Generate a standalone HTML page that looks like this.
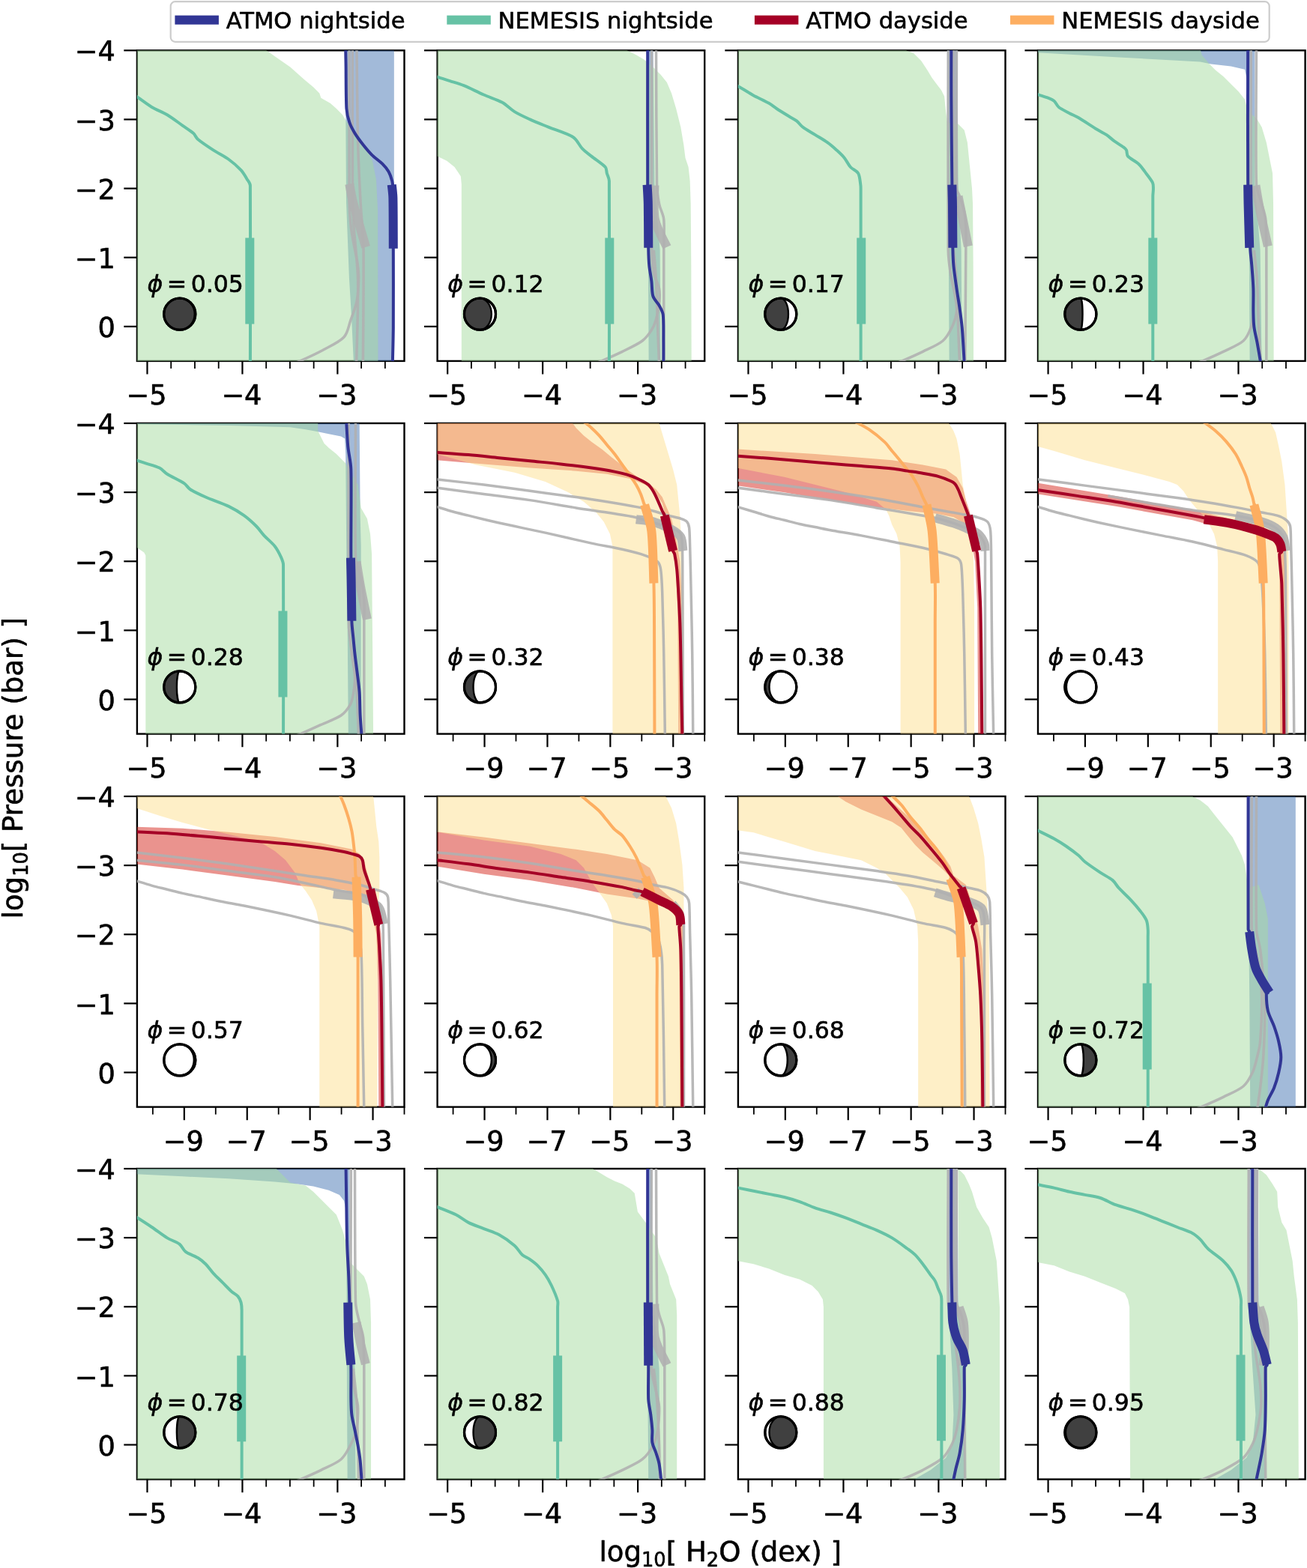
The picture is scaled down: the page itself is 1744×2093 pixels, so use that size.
<!DOCTYPE html><html><head><meta charset="utf-8"><style>html,body{margin:0;padding:0;background:#fff;}svg{display:block}text{font-family:"DejaVu Sans","Liberation Sans",sans-serif;}.b{stroke:#000;stroke-width:0.6px;stroke-linejoin:round}</style></head><body>
<svg xmlns="http://www.w3.org/2000/svg" width="1744" height="2093" viewBox="0 0 1744 2093">
<rect width="1744" height="2093" fill="#fff"/>
<defs>
<clipPath id="cp00"><rect x="182.9" y="67.3" width="356.6" height="414.6"/></clipPath>
<clipPath id="cp01"><rect x="583.6" y="67.3" width="356.6" height="414.6"/></clipPath>
<clipPath id="cp02"><rect x="984.9" y="67.3" width="356.6" height="414.6"/></clipPath>
<clipPath id="cp03"><rect x="1385" y="67.3" width="356.6" height="414.6"/></clipPath>
<clipPath id="cp10"><rect x="182.9" y="565" width="356.6" height="414.6"/></clipPath>
<clipPath id="cp11"><rect x="583.6" y="565" width="356.6" height="414.6"/></clipPath>
<clipPath id="cp12"><rect x="984.9" y="565" width="356.6" height="414.6"/></clipPath>
<clipPath id="cp13"><rect x="1385" y="565" width="356.6" height="414.6"/></clipPath>
<clipPath id="cp20"><rect x="182.9" y="1063" width="356.6" height="414.6"/></clipPath>
<clipPath id="cp21"><rect x="583.6" y="1063" width="356.6" height="414.6"/></clipPath>
<clipPath id="cp22"><rect x="984.9" y="1063" width="356.6" height="414.6"/></clipPath>
<clipPath id="cp23"><rect x="1385" y="1063" width="356.6" height="414.6"/></clipPath>
<clipPath id="cp30"><rect x="182.9" y="1560" width="356.6" height="414.6"/></clipPath>
<clipPath id="cp31"><rect x="583.6" y="1560" width="356.6" height="414.6"/></clipPath>
<clipPath id="cp32"><rect x="984.9" y="1560" width="356.6" height="414.6"/></clipPath>
<clipPath id="cp33"><rect x="1385" y="1560" width="356.6" height="414.6"/></clipPath>
</defs>
<rect x="182.9" y="67.3" width="356.6" height="414.6" fill="none" stroke="#000" stroke-width="2.4"/>
<g clip-path="url(#cp00)">
<polygon points="461.38,64.95 461.38,169.64 462,270.02 465.9,371.01 468.97,421.92 472.05,486.79 525.84,486.79 525.84,64.95" fill="#4575b4" fill-opacity="0.5"/>
<polygon points="179.95,64.95 352.38,64.95 366.75,75.21 387.28,89.58 405.75,106 418.07,116.27 426.28,124.48 428.33,130.64 440.65,137.82 448.86,145 457.07,153.22 461.38,160.61 474.72,179.9 489.91,200.02 497.1,215 502.02,240.05 504.08,280.08 504.49,486.79 179.95,486.79" fill="#a6dba0" fill-opacity="0.5"/>
<path d="M466.1,64.95 C466.1,99.13 465.79,230.91 466.1,270.02 C466.18,279.89 467.13,291.16 467.95,299.58 C468.63,306.6 469.81,313.57 471.03,320.51 C472.53,329.1 475.71,342.68 476.98,351.1 C477.97,357.69 478.73,364.35 478.62,371.01 C478.49,379.43 477.94,392.26 476.16,401.6 C474.49,410.36 470.82,418.98 467.95,427.05 C465.19,434.81 464.5,444 458.92,450.04 C452.69,456.78 440.33,462.2 430.59,467.49 C420.77,472.83 407.22,478.85 400,482.07 C395.87,483.91 389.4,486 387.28,486.79" fill="none" stroke="#b0b0b0" stroke-width="3.5" stroke-opacity="0.9" stroke-linejoin="round" stroke-linecap="butt"/>
<path d="M475.95,64.95 C476.23,85.82 476.74,155.99 477.6,190.17 C478.26,216.8 479.85,246.58 481.09,270.02 C482.15,290.28 484.68,310.49 484.99,330.78 C485.53,366.91 484.47,460.79 484.37,486.79" fill="none" stroke="#b0b0b0" stroke-width="3.5" stroke-opacity="0.9" stroke-linejoin="round" stroke-linecap="butt"/>
<path d="M470.41,64.95 C470.41,92.66 470.24,193.24 470.41,231.22 C470.5,251.75 470.41,272.3 471.44,292.8 C472.64,316.75 477.02,347.47 477.6,374.91 C478.28,407.24 475.89,468.14 475.54,486.79" fill="none" stroke="#b0b0b0" stroke-width="3.5" stroke-opacity="0.9" stroke-linejoin="round" stroke-linecap="butt"/>
<path d="M466.31,245.59 C467.09,249.66 468.95,261.99 471.03,270.02 C474.65,284.04 485.23,319.8 488.07,329.75" fill="none" stroke="#b0b0b0" stroke-width="12.0" stroke-opacity="0.9" stroke-linejoin="round" stroke-linecap="butt"/>
<path d="M179.95,127.56 C180.29,127.73 181.37,128.15 182,128.58 C185.76,131.15 195.69,138.85 202.53,142.95 C209.09,146.89 216.5,149.28 223.06,153.22 C229.9,157.32 237.77,163.48 243.58,167.58 C248.39,170.98 254.53,174.77 257.95,177.85 C260.49,180.14 261.5,183.85 264.11,186.06 C268.56,189.82 277.8,195.98 284.64,200.43 C291.33,204.78 299.01,208.3 305.17,212.75 C311.06,217 317.48,222.67 321.59,227.11 C324.93,230.74 327.75,236.01 329.8,239.43 C331.37,242.06 333.85,244.58 333.9,247.64 C334.59,288.87 333.9,446.93 333.9,486.79" fill="none" stroke="#66c2a5" stroke-width="4.0" stroke-opacity="1" stroke-linejoin="round" stroke-linecap="butt"/>
<polyline points="333.29,317.44 333.29,432.39" fill="none" stroke="#66c2a5" stroke-width="12.0" stroke-opacity="1" stroke-linejoin="round" stroke-linecap="butt"/>
<path d="M461.17,64.95 C461.24,68.71 461.47,80 461.58,87.53 C461.79,100.87 461.62,132.35 462.41,145 C462.8,151.29 464.46,158.01 466.31,163.48 C468.02,168.55 470.71,173.27 473.49,177.85 C476.4,182.64 480.12,187.59 483.75,192.22 C487.52,197.01 491.62,202.14 496.07,206.59 C500.52,211.03 506.68,215.14 510.44,218.9 C513.54,222 516.53,225.4 518.65,229.17 C520.77,232.93 522.21,237.72 523.17,241.48 C524.02,244.82 524.34,248.3 524.4,251.75 C524.67,267.14 524.75,306.49 524.81,333.86 C524.88,364.65 524.98,411.01 524.81,436.5 C524.7,453.26 523.95,478.41 523.78,486.79" fill="none" stroke="#313695" stroke-width="4.0" stroke-opacity="1" stroke-linejoin="round" stroke-linecap="butt"/>
<path d="M522.76,246.62 C523.03,249.52 524.26,258.22 524.4,264.06 C524.74,278.26 524.74,320.51 524.81,331.81" fill="none" stroke="#313695" stroke-width="12.0" stroke-opacity="1" stroke-linejoin="round" stroke-linecap="butt"/>
<text y="390.1" font-size="31.5" class="b"><tspan x="196.5" font-style="italic">ϕ</tspan><tspan x="222.8">=</tspan><tspan x="254.7">0.05</tspan></text>
<circle cx="239.8" cy="419.2" r="21" fill="#ffffff" stroke="#000" stroke-width="3.2"/>
<path d="M239.8,398.2 A21,21 0 0 0 239.8,440.2 A19.97,21 0 0 0 239.8,398.2 Z" fill="#404040" stroke="#000" stroke-width="2.4"/>
<circle cx="239.8" cy="419.2" r="21" fill="none" stroke="#000" stroke-width="3.2"/>
</g>
<line x1="165.3" y1="67.3" x2="182.9" y2="67.3" stroke="#000" stroke-width="2.2"/>
<text x="153.9" y="81.4" font-size="36.7" text-anchor="end" class="b">−4</text>
<line x1="165.3" y1="159.43" x2="182.9" y2="159.43" stroke="#000" stroke-width="2.2"/>
<text x="153.9" y="173.53" font-size="36.7" text-anchor="end" class="b">−3</text>
<line x1="165.3" y1="251.57" x2="182.9" y2="251.57" stroke="#000" stroke-width="2.2"/>
<text x="153.9" y="265.67" font-size="36.7" text-anchor="end" class="b">−2</text>
<line x1="165.3" y1="343.7" x2="182.9" y2="343.7" stroke="#000" stroke-width="2.2"/>
<text x="153.9" y="357.8" font-size="36.7" text-anchor="end" class="b">−1</text>
<line x1="165.3" y1="435.83" x2="182.9" y2="435.83" stroke="#000" stroke-width="2.2"/>
<text x="153.9" y="449.93" font-size="36.7" text-anchor="end" class="b">0</text>
<line x1="196.48" y1="481.9" x2="196.48" y2="499.5" stroke="#000" stroke-width="2.2"/>
<text x="195.48" y="540.2" font-size="36.7" text-anchor="middle" class="b">−5</text>
<line x1="323.43" y1="481.9" x2="323.43" y2="499.5" stroke="#000" stroke-width="2.2"/>
<text x="322.43" y="540.2" font-size="36.7" text-anchor="middle" class="b">−4</text>
<line x1="450.38" y1="481.9" x2="450.38" y2="499.5" stroke="#000" stroke-width="2.2"/>
<text x="449.38" y="540.2" font-size="36.7" text-anchor="middle" class="b">−3</text>
<line x1="228.22" y1="481.9" x2="228.22" y2="491.9" stroke="#000" stroke-width="1.8"/>
<line x1="259.96" y1="481.9" x2="259.96" y2="491.9" stroke="#000" stroke-width="1.8"/>
<line x1="291.7" y1="481.9" x2="291.7" y2="491.9" stroke="#000" stroke-width="1.8"/>
<line x1="355.17" y1="481.9" x2="355.17" y2="491.9" stroke="#000" stroke-width="1.8"/>
<line x1="386.91" y1="481.9" x2="386.91" y2="491.9" stroke="#000" stroke-width="1.8"/>
<line x1="418.65" y1="481.9" x2="418.65" y2="491.9" stroke="#000" stroke-width="1.8"/>
<line x1="482.12" y1="481.9" x2="482.12" y2="491.9" stroke="#000" stroke-width="1.8"/>
<line x1="513.86" y1="481.9" x2="513.86" y2="491.9" stroke="#000" stroke-width="1.8"/>
<rect x="583.6" y="67.3" width="356.6" height="414.6" fill="none" stroke="#000" stroke-width="2.4"/>
<g clip-path="url(#cp01)">
<polygon points="863.58,64.95 871.39,64.95 873.44,245.59 880.62,333.86 881.65,486.79 865.64,486.79 864.82,333.86 863.58,245.59" fill="#4575b4" fill-opacity="0.5"/>
<polygon points="581.95,64.95 836.49,64.95 836.49,67 848.81,73.16 859.07,79.32 871.39,89.58 881.65,99.84 889.86,110.11 896.02,124.48 902.18,145 908.33,169.64 912.44,194.27 914.49,210.69 918.6,223.01 920.65,241.48 921.68,272.28 922.29,354.39 922.7,486.79 615.82,486.79 615.82,245.59 614.79,235.33 606.58,223.01 596.32,214.8 584,208.64 581.95,208.64" fill="#a6dba0" fill-opacity="0.5"/>
<path d="M869.74,64.95 C869.74,109.77 869.3,283.91 869.74,333.86 C869.83,344.16 870.77,356.1 872.41,364.65 C873.78,371.77 878.4,378.33 879.6,385.18 C880.78,391.92 880.28,398.9 879.6,405.7 C878.91,412.55 877.2,420.42 875.49,426.23 C874.02,431.23 872.15,436.22 869.33,440.6 C866.25,445.39 862.09,451.23 857.02,454.97 C850.52,459.76 839.39,464.88 830.33,469.34 C821.16,473.86 808.84,479.16 802,482.07 C797.84,483.84 791.4,486 789.28,486.79" fill="none" stroke="#b0b0b0" stroke-width="3.5" stroke-opacity="0.9" stroke-linejoin="round" stroke-linecap="butt"/>
<path d="M875.49,64.95 C875.66,95.05 875.83,211.03 876.52,245.59 C876.69,254.54 878.06,264.41 879.6,272.28 C880.97,279.29 885.04,285.69 885.75,292.8 C886.78,303.07 885.75,320.17 885.75,333.86 C885.75,366.19 885.75,461.3 885.75,486.79" fill="none" stroke="#b0b0b0" stroke-width="3.5" stroke-opacity="0.9" stroke-linejoin="round" stroke-linecap="butt"/>
<path d="M872.41,333.86 C872.92,340.7 874.81,361.21 875.49,374.91 C876.35,392.02 876.86,417.85 877.54,436.5 C878.16,453.26 879.25,478.41 879.6,486.79" fill="none" stroke="#b0b0b0" stroke-width="3.5" stroke-opacity="0.9" stroke-linejoin="round" stroke-linecap="butt"/>
<path d="M873.44,247.64 C873.51,255.17 871.11,279.12 873.85,292.8 C876.48,305.97 887.19,323.59 889.86,329.75" fill="none" stroke="#b0b0b0" stroke-width="12.0" stroke-opacity="0.9" stroke-linejoin="round" stroke-linecap="butt"/>
<path d="M581.95,102.31 C582.29,102.41 583.32,102.71 584,102.92 C587.08,103.88 594.97,106.29 600.42,108.06 C606.24,109.94 612.89,111.76 618.9,114.21 C626.42,117.29 637.03,122.77 645.58,126.53 C653.72,130.11 663.37,133.03 670.22,136.79 C676.21,140.09 680.8,145.54 686.64,149.11 C692.8,152.87 700.2,156.21 707.17,159.37 C714.69,162.8 723.57,166.26 731.8,169.64 C741.38,173.57 757.12,178.19 764.64,182.98 C770.19,186.51 772.85,194.1 776.96,198.38 C780.66,202.23 785.1,205.3 789.28,208.64 C794.41,212.75 804.33,219.25 807.75,223.01 C809.65,225.1 809.05,228.5 809.8,231.22 C810.66,234.3 812.84,237.91 812.88,241.48 C813.4,284.08 812.88,445.9 812.88,486.79" fill="none" stroke="#66c2a5" stroke-width="4.0" stroke-opacity="1" stroke-linejoin="round" stroke-linecap="butt"/>
<polyline points="813.29,317.44 813.29,432.39" fill="none" stroke="#66c2a5" stroke-width="12.0" stroke-opacity="1" stroke-linejoin="round" stroke-linecap="butt"/>
<path d="M864.2,64.95 C864.2,95.05 864.03,201.11 864.2,245.59 C864.31,274.33 864.88,313.67 865.23,331.81 C865.37,339.34 865.57,347.2 866.25,354.39 C866.91,361.27 868.48,368.07 869.33,374.91 C870.19,381.74 869.67,389.97 871.39,395.44 C872.86,400.15 877.37,403.65 879.6,407.76 C881.71,411.67 884.21,415.66 884.73,420.07 C885.69,428.28 885.24,445.9 885.34,457.02 C885.44,466.94 885.34,481.83 885.34,486.79" fill="none" stroke="#313695" stroke-width="4.0" stroke-opacity="1" stroke-linejoin="round" stroke-linecap="butt"/>
<path d="M863.58,246.62 C863.79,250.89 864.65,263.71 864.82,272.28 C865.09,286.3 865.16,321.03 865.23,330.78" fill="none" stroke="#313695" stroke-width="12.0" stroke-opacity="1" stroke-linejoin="round" stroke-linecap="butt"/>
<text y="390.1" font-size="31.5" class="b"><tspan x="597.2" font-style="italic">ϕ</tspan><tspan x="623.5">=</tspan><tspan x="655.4">0.12</tspan></text>
<circle cx="640.5" cy="419.2" r="21" fill="#ffffff" stroke="#000" stroke-width="3.2"/>
<path d="M640.5,398.2 A21,21 0 0 0 640.5,440.2 A15.31,21 0 0 0 640.5,398.2 Z" fill="#404040" stroke="#000" stroke-width="2.4"/>
<circle cx="640.5" cy="419.2" r="21" fill="none" stroke="#000" stroke-width="3.2"/>
</g>
<line x1="566" y1="67.3" x2="583.6" y2="67.3" stroke="#000" stroke-width="2.2"/>
<line x1="566" y1="159.43" x2="583.6" y2="159.43" stroke="#000" stroke-width="2.2"/>
<line x1="566" y1="251.57" x2="583.6" y2="251.57" stroke="#000" stroke-width="2.2"/>
<line x1="566" y1="343.7" x2="583.6" y2="343.7" stroke="#000" stroke-width="2.2"/>
<line x1="566" y1="435.83" x2="583.6" y2="435.83" stroke="#000" stroke-width="2.2"/>
<line x1="597.18" y1="481.9" x2="597.18" y2="499.5" stroke="#000" stroke-width="2.2"/>
<text x="596.18" y="540.2" font-size="36.7" text-anchor="middle" class="b">−5</text>
<line x1="724.13" y1="481.9" x2="724.13" y2="499.5" stroke="#000" stroke-width="2.2"/>
<text x="723.13" y="540.2" font-size="36.7" text-anchor="middle" class="b">−4</text>
<line x1="851.08" y1="481.9" x2="851.08" y2="499.5" stroke="#000" stroke-width="2.2"/>
<text x="850.08" y="540.2" font-size="36.7" text-anchor="middle" class="b">−3</text>
<line x1="628.92" y1="481.9" x2="628.92" y2="491.9" stroke="#000" stroke-width="1.8"/>
<line x1="660.66" y1="481.9" x2="660.66" y2="491.9" stroke="#000" stroke-width="1.8"/>
<line x1="692.4" y1="481.9" x2="692.4" y2="491.9" stroke="#000" stroke-width="1.8"/>
<line x1="755.87" y1="481.9" x2="755.87" y2="491.9" stroke="#000" stroke-width="1.8"/>
<line x1="787.61" y1="481.9" x2="787.61" y2="491.9" stroke="#000" stroke-width="1.8"/>
<line x1="819.35" y1="481.9" x2="819.35" y2="491.9" stroke="#000" stroke-width="1.8"/>
<line x1="882.82" y1="481.9" x2="882.82" y2="491.9" stroke="#000" stroke-width="1.8"/>
<line x1="914.56" y1="481.9" x2="914.56" y2="491.9" stroke="#000" stroke-width="1.8"/>
<rect x="984.9" y="67.3" width="356.6" height="414.6" fill="none" stroke="#000" stroke-width="2.4"/>
<g clip-path="url(#cp02)">
<polygon points="1264.17,64.95 1277.52,64.95 1278.54,245.59 1282.65,333.86 1283.68,486.79 1266.64,486.79 1265.82,333.86 1264.17,245.59" fill="#4575b4" fill-opacity="0.5"/>
<polygon points="982.95,64.95 1208.75,64.95 1208.75,67 1219.01,71.11 1229.28,81.37 1237.49,93.69 1243.65,103.95 1249.81,112.16 1255.96,120.37 1260.07,128.58 1262.12,149.11 1264.17,163.48 1278.54,165.53 1286.75,173.74 1290.86,190.17 1292.91,210.69 1294.97,231.22 1297.02,251.75 1298.04,272.28 1298.66,354.39 1299.07,486.79 982.95,486.79" fill="#a6dba0" fill-opacity="0.5"/>
<path d="M1272.8,64.95 C1272.8,95.05 1272.52,211.03 1272.8,245.59 C1272.87,254.5 1274.16,267.83 1274.44,272.28" fill="none" stroke="#b0b0b0" stroke-width="3.5" stroke-opacity="0.9" stroke-linejoin="round" stroke-linecap="butt"/>
<path d="M1265.2,64.95 C1265.2,109.77 1264.69,283.91 1265.2,333.86 C1265.31,344.17 1266.75,354.45 1268.28,364.65 C1269.82,374.91 1273.07,386.89 1274.44,395.44 C1275.52,402.23 1277.18,409.13 1276.49,415.97 C1275.81,422.81 1273.39,430.04 1270.33,436.5 C1267.25,443 1263.68,450.2 1258.02,454.97 C1251.52,460.44 1240.39,464.88 1231.33,469.34 C1222.16,473.86 1209.84,479.16 1203,482.07 C1198.84,483.84 1192.4,486 1190.28,486.79" fill="none" stroke="#b0b0b0" stroke-width="3.5" stroke-opacity="0.9" stroke-linejoin="round" stroke-linecap="butt"/>
<path d="M1276.49,64.95 C1276.49,96.08 1275.81,218.9 1276.49,251.75 C1276.57,255.43 1279.43,258.52 1280.6,262.01 C1282.31,267.14 1285.39,275.7 1286.75,282.54 C1288.1,289.28 1288.53,296.2 1288.81,303.07 C1289.15,311.62 1288.86,323.59 1288.81,333.86 C1288.64,364.48 1287.95,461.3 1287.78,486.79" fill="none" stroke="#b0b0b0" stroke-width="3.5" stroke-opacity="0.9" stroke-linejoin="round" stroke-linecap="butt"/>
<path d="M1272.39,333.86 C1273.07,340.7 1275.67,361.18 1276.49,374.91 C1277.52,392.02 1277.86,417.85 1278.54,436.5 C1279.16,453.26 1280.25,478.41 1280.6,486.79" fill="none" stroke="#b0b0b0" stroke-width="3.5" stroke-opacity="0.9" stroke-linejoin="round" stroke-linecap="butt"/>
<path d="M1278.54,262.01 C1279.57,267.14 1282.65,282.54 1284.7,292.8 C1286.93,303.92 1290.69,322.74 1291.89,328.73" fill="none" stroke="#b0b0b0" stroke-width="12.0" stroke-opacity="0.9" stroke-linejoin="round" stroke-linecap="butt"/>
<path d="M982.95,114.21 C983.29,114.38 984.34,114.86 985,115.24 C987.39,116.61 993.9,120.37 997.32,122.42 C1000.08,124.08 1002.68,126.03 1005.53,127.56 C1010.32,130.12 1020.92,134.91 1026.06,137.82 C1029.69,139.88 1032.82,142.72 1036.32,145 C1040.77,147.91 1048.29,152.53 1052.74,155.27 C1056.14,157.36 1059.93,159.03 1063,161.43 C1066.06,163.8 1068.12,167.32 1071.22,169.64 C1075.32,172.72 1082.16,176.48 1087.64,179.9 C1093.11,183.32 1099.27,186.74 1104.06,190.17 C1108.41,193.27 1112.61,197.01 1116.38,200.43 C1119.96,203.68 1123.58,206.95 1126.64,210.69 C1129.72,214.46 1131.77,219.59 1134.85,223.01 C1137.78,226.27 1142.89,227.46 1145.11,231.22 C1147.34,234.98 1147.61,242.17 1148.19,245.59 C1148.54,247.62 1148.6,249.69 1148.6,251.75 C1148.67,291.95 1148.6,447.61 1148.6,486.79" fill="none" stroke="#66c2a5" stroke-width="4.0" stroke-opacity="1" stroke-linejoin="round" stroke-linecap="butt"/>
<polyline points="1149.22,317.44 1149.22,432.39" fill="none" stroke="#66c2a5" stroke-width="12.0" stroke-opacity="1" stroke-linejoin="round" stroke-linecap="butt"/>
<path d="M1269.31,64.95 C1269.31,75.55 1269.19,107.37 1269.31,128.58 C1269.48,158.69 1269.99,211.72 1270.33,245.59 C1270.62,274.33 1271.02,313.67 1271.36,331.81 C1271.5,339.34 1271.66,346.89 1272.39,354.39 C1273.24,363.28 1275.12,375.6 1276.49,385.18 C1277.76,394.09 1279.4,403.31 1280.6,411.86 C1281.74,420.06 1282.91,428.26 1283.68,436.5 C1284.53,445.73 1285.22,458.9 1285.73,467.29 C1286.13,473.78 1286.58,483.54 1286.75,486.79" fill="none" stroke="#313695" stroke-width="4.0" stroke-opacity="1" stroke-linejoin="round" stroke-linecap="butt"/>
<path d="M1270.33,246.62 C1270.44,250.89 1270.84,263.72 1270.95,272.28 C1271.12,286.3 1271.29,321.03 1271.36,330.78" fill="none" stroke="#313695" stroke-width="12.0" stroke-opacity="1" stroke-linejoin="round" stroke-linecap="butt"/>
<text y="390.1" font-size="31.5" class="b"><tspan x="998.5" font-style="italic">ϕ</tspan><tspan x="1024.8">=</tspan><tspan x="1056.7">0.17</tspan></text>
<circle cx="1041.8" cy="419.2" r="21" fill="#ffffff" stroke="#000" stroke-width="3.2"/>
<path d="M1041.8,398.2 A21,21 0 0 0 1041.8,440.2 A10.12,21 0 0 0 1041.8,398.2 Z" fill="#404040" stroke="#000" stroke-width="2.4"/>
<circle cx="1041.8" cy="419.2" r="21" fill="none" stroke="#000" stroke-width="3.2"/>
</g>
<line x1="967.3" y1="67.3" x2="984.9" y2="67.3" stroke="#000" stroke-width="2.2"/>
<line x1="967.3" y1="159.43" x2="984.9" y2="159.43" stroke="#000" stroke-width="2.2"/>
<line x1="967.3" y1="251.57" x2="984.9" y2="251.57" stroke="#000" stroke-width="2.2"/>
<line x1="967.3" y1="343.7" x2="984.9" y2="343.7" stroke="#000" stroke-width="2.2"/>
<line x1="967.3" y1="435.83" x2="984.9" y2="435.83" stroke="#000" stroke-width="2.2"/>
<line x1="998.48" y1="481.9" x2="998.48" y2="499.5" stroke="#000" stroke-width="2.2"/>
<text x="997.48" y="540.2" font-size="36.7" text-anchor="middle" class="b">−5</text>
<line x1="1125.43" y1="481.9" x2="1125.43" y2="499.5" stroke="#000" stroke-width="2.2"/>
<text x="1124.43" y="540.2" font-size="36.7" text-anchor="middle" class="b">−4</text>
<line x1="1252.38" y1="481.9" x2="1252.38" y2="499.5" stroke="#000" stroke-width="2.2"/>
<text x="1251.38" y="540.2" font-size="36.7" text-anchor="middle" class="b">−3</text>
<line x1="1030.22" y1="481.9" x2="1030.22" y2="491.9" stroke="#000" stroke-width="1.8"/>
<line x1="1061.96" y1="481.9" x2="1061.96" y2="491.9" stroke="#000" stroke-width="1.8"/>
<line x1="1093.7" y1="481.9" x2="1093.7" y2="491.9" stroke="#000" stroke-width="1.8"/>
<line x1="1157.17" y1="481.9" x2="1157.17" y2="491.9" stroke="#000" stroke-width="1.8"/>
<line x1="1188.91" y1="481.9" x2="1188.91" y2="491.9" stroke="#000" stroke-width="1.8"/>
<line x1="1220.65" y1="481.9" x2="1220.65" y2="491.9" stroke="#000" stroke-width="1.8"/>
<line x1="1284.12" y1="481.9" x2="1284.12" y2="491.9" stroke="#000" stroke-width="1.8"/>
<line x1="1315.86" y1="481.9" x2="1315.86" y2="491.9" stroke="#000" stroke-width="1.8"/>
<rect x="1385" y="67.3" width="356.6" height="414.6" fill="none" stroke="#000" stroke-width="2.4"/>
<g clip-path="url(#cp03)">
<polygon points="1383.95,64.95 1674.41,64.95 1674.41,245.59 1681.6,333.86 1683.65,486.79 1667.64,486.79 1666.82,333.86 1665.17,245.59 1664.76,128.58 1664.15,108.06 1661.07,92.66 1642.59,88.55 1615.91,85.47 1601.54,82.4 1488.64,76.24 1383.95,70.08" fill="#4575b4" fill-opacity="0.5"/>
<polygon points="1383.95,64.95 1601.54,64.95 1603.59,73.16 1613.86,85.47 1622.07,93.69 1632.33,101.9 1642.59,112.16 1652.86,122.42 1661.07,132.69 1665.17,149.11 1673.39,155.27 1677.49,159.37 1683.65,169.64 1689.81,190.17 1693.91,210.69 1698.02,231.22 1699.04,272.28 1699.66,486.79 1383.95,486.79" fill="#a6dba0" fill-opacity="0.5"/>
<path d="M1669.28,64.95 C1669.28,109.77 1668.77,282.2 1669.28,333.86 C1669.42,347.58 1671.85,361.23 1672.36,374.91 C1672.87,388.59 1672.87,405.7 1672.36,415.97 C1672.01,422.88 1671.5,430 1669.28,436.5 C1667.06,443 1664.28,450.29 1659.02,454.97 C1652.86,460.44 1641.39,464.88 1632.33,469.34 C1623.16,473.86 1610.84,479.16 1604,482.07 C1599.84,483.84 1593.4,486 1591.28,486.79" fill="none" stroke="#b0b0b0" stroke-width="3.5" stroke-opacity="0.9" stroke-linejoin="round" stroke-linecap="butt"/>
<path d="M1676.46,64.95 C1676.46,95.05 1675.27,211.03 1676.46,245.59 C1676.78,254.8 1681.6,264.41 1683.65,272.28 C1685.43,279.1 1688.08,285.78 1688.78,292.8 C1689.81,303.07 1689.73,320.17 1689.81,333.86 C1689.98,366.19 1689.81,461.3 1689.81,486.79" fill="none" stroke="#b0b0b0" stroke-width="3.5" stroke-opacity="0.9" stroke-linejoin="round" stroke-linecap="butt"/>
<path d="M1673.39,333.86 C1674.07,340.7 1676.67,361.18 1677.49,374.91 C1678.52,392.02 1678.69,417.85 1679.54,436.5 C1680.31,453.27 1682.11,478.41 1682.62,486.79" fill="none" stroke="#b0b0b0" stroke-width="3.5" stroke-opacity="0.9" stroke-linejoin="round" stroke-linecap="butt"/>
<path d="M1675.44,247.64 C1676.46,253.46 1679.25,270.96 1681.6,282.54 C1684.33,296.05 1690.15,321.03 1691.86,328.73" fill="none" stroke="#b0b0b0" stroke-width="12.0" stroke-opacity="0.9" stroke-linejoin="round" stroke-linecap="butt"/>
<path d="M1383.95,125.5 C1384.29,125.67 1385.28,126.27 1386,126.53 C1388.39,127.39 1394.9,129.27 1398.32,130.64 C1401.16,131.77 1404.2,132.75 1406.53,134.74 C1408.92,136.79 1410.01,140.81 1412.69,142.95 C1416.11,145.69 1422.61,148.77 1427.06,151.16 C1431.1,153.34 1435.42,154.99 1439.37,157.32 C1445.19,160.74 1455.79,167.93 1461.95,171.69 C1466.66,174.57 1472.22,177.16 1476.32,179.9 C1479.97,182.33 1483.04,185.54 1486.58,188.11 C1490.35,190.85 1496.16,194.27 1498.9,196.32 C1500.45,197.48 1502.14,198.7 1503.01,200.43 C1504.03,202.48 1503.19,206.53 1505.06,208.64 C1507.8,211.72 1515.67,215.48 1519.43,218.9 C1522.67,221.85 1525.01,225.66 1527.64,229.17 C1530.72,233.27 1536.02,239.77 1537.9,243.54 C1539.14,246 1538.87,248.99 1538.93,251.75 C1539,254.83 1538.32,258.58 1538.31,262.01 C1538.21,301.18 1538.31,449.33 1538.31,486.79" fill="none" stroke="#66c2a5" stroke-width="4.0" stroke-opacity="1" stroke-linejoin="round" stroke-linecap="butt"/>
<polyline points="1538.31,317.44 1538.31,432.39" fill="none" stroke="#66c2a5" stroke-width="12.0" stroke-opacity="1" stroke-linejoin="round" stroke-linecap="butt"/>
<path d="M1665.17,64.95 C1665.17,94.71 1664.66,199.06 1665.17,243.54 C1665.51,272.98 1667.4,313.33 1668.25,331.81 C1668.6,339.35 1669.73,346.85 1670.31,354.39 C1670.99,363.28 1672.02,374.91 1672.36,385.18 C1672.7,395.43 1672.19,407.41 1672.36,415.97 C1672.5,422.82 1672.54,429.7 1673.39,436.5 C1674.24,443.34 1676.23,450.16 1677.49,457.02 C1679.03,465.41 1681.77,481.83 1682.62,486.79" fill="none" stroke="#313695" stroke-width="4.0" stroke-opacity="1" stroke-linejoin="round" stroke-linecap="butt"/>
<path d="M1665.17,246.62 C1665.24,250.89 1665.38,263.72 1665.58,272.28 C1665.93,286.3 1666.95,321.03 1667.23,330.78" fill="none" stroke="#313695" stroke-width="12.0" stroke-opacity="1" stroke-linejoin="round" stroke-linecap="butt"/>
<text y="390.1" font-size="31.5" class="b"><tspan x="1398.6" font-style="italic">ϕ</tspan><tspan x="1424.9">=</tspan><tspan x="1456.8">0.23</tspan></text>
<circle cx="1441.9" cy="419.2" r="21" fill="#ffffff" stroke="#000" stroke-width="3.2"/>
<path d="M1441.9,398.2 A21,21 0 0 0 1441.9,440.2 A2.63,21 0 0 0 1441.9,398.2 Z" fill="#404040" stroke="#000" stroke-width="2.4"/>
<circle cx="1441.9" cy="419.2" r="21" fill="none" stroke="#000" stroke-width="3.2"/>
</g>
<line x1="1367.4" y1="67.3" x2="1385" y2="67.3" stroke="#000" stroke-width="2.2"/>
<line x1="1367.4" y1="159.43" x2="1385" y2="159.43" stroke="#000" stroke-width="2.2"/>
<line x1="1367.4" y1="251.57" x2="1385" y2="251.57" stroke="#000" stroke-width="2.2"/>
<line x1="1367.4" y1="343.7" x2="1385" y2="343.7" stroke="#000" stroke-width="2.2"/>
<line x1="1367.4" y1="435.83" x2="1385" y2="435.83" stroke="#000" stroke-width="2.2"/>
<line x1="1398.58" y1="481.9" x2="1398.58" y2="499.5" stroke="#000" stroke-width="2.2"/>
<text x="1397.58" y="540.2" font-size="36.7" text-anchor="middle" class="b">−5</text>
<line x1="1525.53" y1="481.9" x2="1525.53" y2="499.5" stroke="#000" stroke-width="2.2"/>
<text x="1524.53" y="540.2" font-size="36.7" text-anchor="middle" class="b">−4</text>
<line x1="1652.48" y1="481.9" x2="1652.48" y2="499.5" stroke="#000" stroke-width="2.2"/>
<text x="1651.48" y="540.2" font-size="36.7" text-anchor="middle" class="b">−3</text>
<line x1="1430.32" y1="481.9" x2="1430.32" y2="491.9" stroke="#000" stroke-width="1.8"/>
<line x1="1462.06" y1="481.9" x2="1462.06" y2="491.9" stroke="#000" stroke-width="1.8"/>
<line x1="1493.8" y1="481.9" x2="1493.8" y2="491.9" stroke="#000" stroke-width="1.8"/>
<line x1="1557.27" y1="481.9" x2="1557.27" y2="491.9" stroke="#000" stroke-width="1.8"/>
<line x1="1589.01" y1="481.9" x2="1589.01" y2="491.9" stroke="#000" stroke-width="1.8"/>
<line x1="1620.75" y1="481.9" x2="1620.75" y2="491.9" stroke="#000" stroke-width="1.8"/>
<line x1="1684.22" y1="481.9" x2="1684.22" y2="491.9" stroke="#000" stroke-width="1.8"/>
<line x1="1715.96" y1="481.9" x2="1715.96" y2="491.9" stroke="#000" stroke-width="1.8"/>
<rect x="182.9" y="565" width="356.6" height="414.6" fill="none" stroke="#000" stroke-width="2.4"/>
<g clip-path="url(#cp10)">
<polygon points="179.95,562.95 479.65,562.95 480.68,688.17 481.7,729.22 481.7,984.79 464.87,984.79 463.64,831.86 462.2,729.22 461.17,606.06 460.15,585.53 455.02,582.45 438.59,579.37 424.22,576.29 407.8,573.21 387.28,570.13 305.17,568.08 179.95,566.03" fill="#4575b4" fill-opacity="0.5"/>
<polygon points="179.95,562.95 424.22,562.95 424.22,575.26 428.33,583.47 432.44,591.69 438.59,597.84 448.86,606.06 457.07,614.27 461.17,618.37 465.28,626.58 477.6,647.11 481.7,677.9 489.91,692.27 494.02,712.8 496.07,739.48 498.12,984.79 194.32,984.79 194.32,741.54 192.26,737.43 186.11,733.33 179.95,729.22" fill="#a6dba0" fill-opacity="0.5"/>
<path d="M465.28,562.95 C465.28,607.77 464.6,780.2 465.28,831.86 C465.46,845.61 468.02,860.94 469.39,872.91 C470.56,883.2 473.15,894.81 473.49,903.7 C473.78,911.26 472.46,920.13 471.44,926.28 C470.62,931.2 469.8,936.33 467.33,940.65 C464.6,945.44 460.22,951.46 455.02,955.02 C448.52,959.47 437.25,963.28 428.33,967.34 C419.16,971.51 406.84,977.16 400,980.07 C395.84,981.84 389.4,984 387.28,984.79" fill="none" stroke="#b0b0b0" stroke-width="3.5" stroke-opacity="0.9" stroke-linejoin="round" stroke-linecap="butt"/>
<path d="M474.52,562.95 C474.52,593.4 473.32,711.09 474.52,745.64 C474.81,754.19 479.99,761.89 481.7,770.28 C483.58,779.51 485.12,790.8 485.81,801.07 C486.49,811.31 485.81,821.59 485.81,831.86 C485.81,862.48 485.81,959.3 485.81,984.79" fill="none" stroke="#b0b0b0" stroke-width="3.5" stroke-opacity="0.9" stroke-linejoin="round" stroke-linecap="butt"/>
<path d="M470.41,831.86 C470.92,838.7 472.67,859.21 473.49,872.91 C474.52,890.02 475.71,915.85 476.57,934.5 C477.34,951.26 478.28,976.41 478.62,984.79" fill="none" stroke="#b0b0b0" stroke-width="3.5" stroke-opacity="0.9" stroke-linejoin="round" stroke-linecap="butt"/>
<path d="M475.54,749.75 C476.57,755.91 479.41,774.42 481.7,786.7 C484.1,799.53 488.54,820.05 489.91,826.73" fill="none" stroke="#b0b0b0" stroke-width="12.0" stroke-opacity="0.9" stroke-linejoin="round" stroke-linecap="butt"/>
<path d="M179.95,613.65 C180.29,613.75 181.32,614.04 182,614.27 C184.39,615.05 190.21,617 194.32,618.37 C199.45,620.08 208,622.13 212.79,624.53 C216.71,626.49 219.34,630.42 223.06,632.74 C228.53,636.16 240.5,641.64 245.64,645.06 C248.86,647.2 250.59,651.18 253.85,653.27 C258.64,656.35 267.37,660.45 274.37,663.53 C282.93,667.3 296.61,671.74 305.17,675.85 C312.36,679.3 319.53,683.72 325.69,688.17 C331.59,692.42 337.67,698.09 342.11,702.53 C345.89,706.31 348.75,710.92 352.38,714.85 C356.48,719.3 362.98,724.43 366.75,729.22 C370.16,733.56 373.08,739.48 374.96,743.59 C376.45,746.84 377.99,750.28 378.04,753.85 C378.55,794.05 378.04,946.3 378.04,984.79" fill="none" stroke="#66c2a5" stroke-width="4.0" stroke-opacity="1" stroke-linejoin="round" stroke-linecap="butt"/>
<polyline points="377.42,815.44 377.42,930.39" fill="none" stroke="#66c2a5" stroke-width="12.0" stroke-opacity="1" stroke-linejoin="round" stroke-linecap="butt"/>
<path d="M462.2,562.95 C462.54,568.42 463.23,585.19 464.25,595.79 C465.25,606.1 468.07,616.23 468.36,626.58 C469.04,650.87 468.19,707.67 468.36,741.54 C468.51,770.96 468.87,811.33 469.39,829.81 C469.6,837.36 470.75,845.2 471.44,852.39 C472.09,859.23 472.71,866.08 473.49,872.91 C474.35,880.44 475.58,889.33 476.57,897.55 C477.6,906.1 479.01,915.3 479.65,924.23 C480.33,933.81 480.16,944.93 480.68,955.02 C481.18,964.96 482.39,979.83 482.73,984.79" fill="none" stroke="#313695" stroke-width="4.0" stroke-opacity="1" stroke-linejoin="round" stroke-linecap="butt"/>
<path d="M467.95,744.62 C468.05,748.89 468.42,761.72 468.56,770.28 C468.8,784.3 469.25,819.03 469.39,828.78" fill="none" stroke="#313695" stroke-width="12.0" stroke-opacity="1" stroke-linejoin="round" stroke-linecap="butt"/>
<text y="887.8" font-size="31.5" class="b"><tspan x="196.5" font-style="italic">ϕ</tspan><tspan x="222.8">=</tspan><tspan x="254.7">0.28</tspan></text>
<circle cx="239.8" cy="916.9" r="21" fill="#ffffff" stroke="#000" stroke-width="3.2"/>
<path d="M239.8,895.9 A21,21 0 0 0 239.8,937.9 A3.94,21 0 0 1 239.8,895.9 Z" fill="#404040" stroke="#000" stroke-width="2.4"/>
<circle cx="239.8" cy="916.9" r="21" fill="none" stroke="#000" stroke-width="3.2"/>
</g>
<line x1="165.3" y1="565" x2="182.9" y2="565" stroke="#000" stroke-width="2.2"/>
<text x="153.9" y="579.1" font-size="36.7" text-anchor="end" class="b">−4</text>
<line x1="165.3" y1="657.13" x2="182.9" y2="657.13" stroke="#000" stroke-width="2.2"/>
<text x="153.9" y="671.23" font-size="36.7" text-anchor="end" class="b">−3</text>
<line x1="165.3" y1="749.27" x2="182.9" y2="749.27" stroke="#000" stroke-width="2.2"/>
<text x="153.9" y="763.37" font-size="36.7" text-anchor="end" class="b">−2</text>
<line x1="165.3" y1="841.4" x2="182.9" y2="841.4" stroke="#000" stroke-width="2.2"/>
<text x="153.9" y="855.5" font-size="36.7" text-anchor="end" class="b">−1</text>
<line x1="165.3" y1="933.53" x2="182.9" y2="933.53" stroke="#000" stroke-width="2.2"/>
<text x="153.9" y="947.63" font-size="36.7" text-anchor="end" class="b">0</text>
<line x1="196.48" y1="979.6" x2="196.48" y2="997.2" stroke="#000" stroke-width="2.2"/>
<text x="195.48" y="1037.9" font-size="36.7" text-anchor="middle" class="b">−5</text>
<line x1="323.43" y1="979.6" x2="323.43" y2="997.2" stroke="#000" stroke-width="2.2"/>
<text x="322.43" y="1037.9" font-size="36.7" text-anchor="middle" class="b">−4</text>
<line x1="450.38" y1="979.6" x2="450.38" y2="997.2" stroke="#000" stroke-width="2.2"/>
<text x="449.38" y="1037.9" font-size="36.7" text-anchor="middle" class="b">−3</text>
<line x1="228.22" y1="979.6" x2="228.22" y2="989.6" stroke="#000" stroke-width="1.8"/>
<line x1="259.96" y1="979.6" x2="259.96" y2="989.6" stroke="#000" stroke-width="1.8"/>
<line x1="291.7" y1="979.6" x2="291.7" y2="989.6" stroke="#000" stroke-width="1.8"/>
<line x1="355.17" y1="979.6" x2="355.17" y2="989.6" stroke="#000" stroke-width="1.8"/>
<line x1="386.91" y1="979.6" x2="386.91" y2="989.6" stroke="#000" stroke-width="1.8"/>
<line x1="418.65" y1="979.6" x2="418.65" y2="989.6" stroke="#000" stroke-width="1.8"/>
<line x1="482.12" y1="979.6" x2="482.12" y2="989.6" stroke="#000" stroke-width="1.8"/>
<line x1="513.86" y1="979.6" x2="513.86" y2="989.6" stroke="#000" stroke-width="1.8"/>
<rect x="583.6" y="565" width="356.6" height="414.6" fill="none" stroke="#000" stroke-width="2.4"/>
<g clip-path="url(#cp11)">
<polygon points="581.95,562.95 762.59,562.95 768.75,571.16 779.01,581.42 789.28,589.63 803.64,599.9 815.96,610.16 826.22,618.37 836.49,626.58 850.86,636.85 865.23,645.06 875.49,653.27 883.7,663.53 889.86,677.9 896.02,692.27 902.18,718.96 907.31,749.75 910.39,811.33 912.44,984.79 905.26,984.79 904.23,811.33 901.15,749.75 893.97,718.96 887.81,688.17 883.7,671.74 875.49,659.43 861.12,647.11 840.59,638.9 809.8,632.74 768.75,628.64 707.17,624.53 645.58,619.4 581.95,614.27" fill="#d73027" fill-opacity="0.52"/>
<polygon points="581.95,562.95 879.6,562.95 879.6,565 885.75,585.53 891.91,606.06 898.07,626.58 903.2,647.11 905.26,667.64 907.31,688.17 910.39,749.75 912.44,811.33 912.44,984.79 817.4,984.79 817.4,729.22 813.91,712.8 805.7,696.38 795.43,684.06 779.01,669.69 758.48,657.37 727.69,643 686.64,630.69 635.32,620.42 581.95,606.06" fill="#fee090" fill-opacity="0.5"/>
<path d="M581.95,639.72 C582.29,639.75 583.32,639.85 584,639.93 C594.61,641.16 625.08,644.55 645.58,647.11 C666.11,649.68 686.64,652.58 707.17,655.32 C727.69,658.06 751.64,661.14 768.75,663.53 C782.45,665.45 796.14,667.47 809.8,669.69 C823.49,671.91 840.59,674.82 850.86,676.88 C857.77,678.26 864.58,680.14 871.39,682.01 C878.23,683.89 885.75,686.45 891.91,688.17 C897.35,689.68 904.23,690.9 908.33,692.27 C911.24,693.24 914.66,694.32 916.55,696.38 C918.43,698.43 919.26,701.69 919.62,704.59 C920.31,710.06 920.39,721.01 920.65,729.22 C920.99,740.17 921.38,756.59 921.68,770.28 C922.19,794.22 923.24,838.7 923.73,872.91 C924.24,908.66 924.59,966.14 924.76,984.79" fill="none" stroke="#b0b0b0" stroke-width="3.5" stroke-opacity="0.9" stroke-linejoin="round" stroke-linecap="butt"/>
<path d="M581.95,651.01 C582.29,651.04 583.32,651.13 584,651.22 C594.61,652.62 625.06,656.69 645.58,659.43 C666.11,662.16 686.69,664.57 707.17,667.64 C727.69,670.72 751.64,675.16 768.75,677.9 C782.41,680.09 796.8,682.01 809.8,684.06 C822.14,686.01 838.2,688.51 846.75,690.22 C851.64,691.19 856.34,692.92 861.12,694.32 C866.94,696.03 875.15,698.43 881.65,700.48 C887.84,702.44 895.68,704.59 900.12,706.64 C903.23,708.07 906.92,709.68 908.33,712.8 C910.05,716.56 910.15,723.71 910.39,729.22 C910.8,738.8 910.74,756.59 910.8,770.28 C910.97,812.87 911.31,949.04 911.41,984.79" fill="none" stroke="#b0b0b0" stroke-width="3.5" stroke-opacity="0.9" stroke-linejoin="round" stroke-linecap="butt"/>
<path d="M581.95,676.26 C582.29,676.36 583.32,676.67 584,676.88 C587.76,678 597.69,681.15 604.53,683.03 C611.33,684.9 618.21,686.45 625.06,688.17 C631.9,689.88 638.74,691.65 645.58,693.3 C652.41,694.94 659.25,696.51 666.11,698.02 C674.66,699.9 686.64,702.4 696.9,704.59 C707.17,706.78 717.45,708.88 727.69,711.16 C743.09,714.58 772.17,721.42 789.28,725.11 C802.92,728.06 818.36,730.59 830.33,733.33 C840.69,735.69 853.25,738.8 861.12,741.54 C866.9,743.55 874.12,746.67 877.54,749.75 C880.28,752.21 881.1,756.37 881.65,760.01 C882.68,766.85 883.33,780.52 883.7,790.8 C884.39,809.62 885.23,845.54 885.75,872.91 C886.37,905.24 887.12,966.14 887.4,984.79" fill="none" stroke="#b0b0b0" stroke-width="3.5" stroke-opacity="0.9" stroke-linejoin="round" stroke-linecap="butt"/>
<path d="M848.81,693.3 C852.57,693.81 864.08,694.31 871.39,696.38 C879.25,698.6 889.86,703.22 896.02,706.64 C900.69,709.24 905.81,712.19 908.33,716.9 C910.9,721.69 910.9,732.3 911.41,735.38" fill="none" stroke="#b0b0b0" stroke-width="12.0" stroke-opacity="0.9" stroke-linejoin="round" stroke-linecap="butt"/>
<path d="M779.01,562.95 C780.72,564.32 786.02,568.23 789.28,571.16 C792.7,574.24 796.28,577.84 799.54,581.42 C802.96,585.19 806.38,589.63 809.8,593.74 C813.22,597.84 816.81,601.82 820.07,606.06 C823.49,610.5 826.91,615.63 830.33,620.42 C833.75,625.21 837.51,630.35 840.59,634.79 C843.4,638.85 846.41,643 848.81,647.11 C851.12,651.07 853.25,655.32 854.96,659.43 C856.63,663.42 858.21,669.35 859.07,671.74 C859.33,672.46 859.92,673.45 860.1,673.8 C860.1,673.8 860.1,673.8 860.1,673.8 C861.63,679.61 867.93,696.74 869.33,708.69 C871.39,726.14 871.8,757.96 872.41,778.49 C872.95,796.27 872.94,814.07 873.03,831.86 C873.2,866.24 873.37,959.3 873.44,984.79" fill="none" stroke="#fdae61" stroke-width="4.0" stroke-opacity="1" stroke-linejoin="round" stroke-linecap="butt"/>
<path d="M860.1,673.8 C861.63,679.61 867.93,696.74 869.33,708.69 C871.39,726.14 871.9,766.85 872.41,778.49" fill="none" stroke="#fdae61" stroke-width="12.0" stroke-opacity="1" stroke-linejoin="round" stroke-linecap="butt"/>
<path d="M581.95,603.8 C582.29,603.83 583.31,603.95 584,604 C591.18,604.55 611.38,605.89 625.06,607.08 C638.74,608.28 652.43,609.82 666.11,611.19 C679.8,612.56 693.48,613.92 707.17,615.29 C720.85,616.66 734.55,617.86 748.22,619.4 C761.91,620.94 777.3,622.82 789.28,624.53 C799.58,626 811.51,627.95 820.07,629.66 C826.98,631.04 834.78,632.91 840.59,634.79 C845.55,636.4 850.86,638.9 854.96,640.95 C858.53,642.74 862.49,644.72 865.23,647.11 C867.8,649.36 869.63,652.39 871.39,655.32 C873.44,658.74 875.62,663.47 877.54,667.64 C879.6,672.09 882.16,678.59 883.7,682.01 C884.64,684.1 886.18,685.95 886.78,688.17 C889.18,697.06 895.85,726.83 898.07,735.38 C898.46,736.86 899.81,737.99 900.12,739.48 C900.98,743.59 902.51,753.13 903.2,760.01 C904.06,768.56 904.67,780.53 905.26,790.8 C905.94,802.78 906.8,818.17 907.31,831.86 C907.82,845.54 908.06,859.23 908.33,872.91 C908.68,890.02 909.02,915.85 909.36,934.5 C909.67,951.26 910.22,976.41 910.39,984.79" fill="none" stroke="#a50026" stroke-width="4.0" stroke-opacity="1" stroke-linejoin="round" stroke-linecap="butt"/>
<polyline points="886.78,688.17 898.07,735.38" fill="none" stroke="#a50026" stroke-width="12.0" stroke-opacity="1" stroke-linejoin="round" stroke-linecap="butt"/>
<text y="887.8" font-size="31.5" class="b"><tspan x="597.2" font-style="italic">ϕ</tspan><tspan x="623.5">=</tspan><tspan x="655.4">0.32</tspan></text>
<circle cx="640.5" cy="916.9" r="21" fill="#ffffff" stroke="#000" stroke-width="3.2"/>
<path d="M640.5,895.9 A21,21 0 0 0 640.5,937.9 A8.94,21 0 0 1 640.5,895.9 Z" fill="#404040" stroke="#000" stroke-width="2.4"/>
<circle cx="640.5" cy="916.9" r="21" fill="none" stroke="#000" stroke-width="3.2"/>
</g>
<line x1="566" y1="565" x2="583.6" y2="565" stroke="#000" stroke-width="2.2"/>
<line x1="566" y1="657.13" x2="583.6" y2="657.13" stroke="#000" stroke-width="2.2"/>
<line x1="566" y1="749.27" x2="583.6" y2="749.27" stroke="#000" stroke-width="2.2"/>
<line x1="566" y1="841.4" x2="583.6" y2="841.4" stroke="#000" stroke-width="2.2"/>
<line x1="566" y1="933.53" x2="583.6" y2="933.53" stroke="#000" stroke-width="2.2"/>
<line x1="646.53" y1="979.6" x2="646.53" y2="997.2" stroke="#000" stroke-width="2.2"/>
<text x="645.53" y="1037.9" font-size="36.7" text-anchor="middle" class="b">−9</text>
<line x1="730.44" y1="979.6" x2="730.44" y2="997.2" stroke="#000" stroke-width="2.2"/>
<text x="729.44" y="1037.9" font-size="36.7" text-anchor="middle" class="b">−7</text>
<line x1="814.34" y1="979.6" x2="814.34" y2="997.2" stroke="#000" stroke-width="2.2"/>
<text x="813.34" y="1037.9" font-size="36.7" text-anchor="middle" class="b">−5</text>
<line x1="898.25" y1="979.6" x2="898.25" y2="997.2" stroke="#000" stroke-width="2.2"/>
<text x="897.25" y="1037.9" font-size="36.7" text-anchor="middle" class="b">−3</text>
<line x1="604.58" y1="979.6" x2="604.58" y2="989.6" stroke="#000" stroke-width="1.8"/>
<line x1="688.48" y1="979.6" x2="688.48" y2="989.6" stroke="#000" stroke-width="1.8"/>
<line x1="772.39" y1="979.6" x2="772.39" y2="989.6" stroke="#000" stroke-width="1.8"/>
<line x1="856.29" y1="979.6" x2="856.29" y2="989.6" stroke="#000" stroke-width="1.8"/>
<line x1="940.2" y1="979.6" x2="940.2" y2="989.6" stroke="#000" stroke-width="1.8"/>
<rect x="984.9" y="565" width="356.6" height="414.6" fill="none" stroke="#000" stroke-width="2.4"/>
<g clip-path="url(#cp12)">
<polygon points="982.95,599.49 1087.64,606.06 1190.28,614.27 1231.33,620.42 1262.12,626.58 1276.49,636.85 1284.7,651.22 1288.81,667.64 1292.91,679.95 1301.12,708.69 1306.26,749.75 1309.33,811.33 1311.39,984.79 1305.23,984.79 1304.2,811.33 1301.12,749.75 1294.97,712.8 1286.75,698.43 1272.39,690.22 1251.86,686.11 1210.8,682.01 1169.75,676.88 1108.17,667.64 1046.58,657.37 982.95,648.14" fill="#d73027" fill-opacity="0.52"/>
<polygon points="982.95,562.95 1266.23,562.95 1266.23,565 1272.39,575.26 1276.49,585.53 1280.6,606.06 1282.65,626.58 1284.7,647.11 1288.81,667.64 1292.91,684.06 1297.02,708.69 1299.07,749.75 1300.1,811.33 1300.1,984.79 1201.57,984.79 1201.57,749.75 1200.54,729.22 1196.43,712.8 1190.28,700.48 1186.17,688.17 1182.06,679.95 1169.75,669.69 1128.69,657.37 1087.64,647.11 1046.58,636.85 982.95,624.53" fill="#fee090" fill-opacity="0.5"/>
<path d="M982.95,640.54 C983.29,640.61 984.31,640.87 985,640.95 C1002.45,643.07 1056.85,649.16 1087.64,653.27 C1115.07,656.93 1145.8,661.65 1169.75,665.58 C1190.34,668.97 1212.51,673.45 1231.33,676.88 C1248.43,679.98 1270.67,683.89 1282.65,686.11 C1289.51,687.39 1297.36,688.51 1303.18,690.22 C1308.18,691.69 1314.47,693.3 1317.55,696.38 C1320.61,699.44 1321.24,704.38 1321.65,708.69 C1322.51,717.59 1322.51,736.06 1322.68,749.75 C1323.02,777.12 1323.19,833.74 1323.7,872.91 C1324.19,910.21 1325.41,966.14 1325.76,984.79" fill="none" stroke="#b0b0b0" stroke-width="3.5" stroke-opacity="0.9" stroke-linejoin="round" stroke-linecap="butt"/>
<path d="M982.95,650.81 C983.29,650.87 984.31,651.12 985,651.22 C995.61,652.65 1026.06,656.69 1046.58,659.43 C1067.11,662.16 1087.69,664.57 1108.17,667.64 C1128.69,670.72 1149.22,674.48 1169.75,677.9 C1190.28,681.32 1218.33,685.94 1231.33,688.17 C1236.82,689.1 1242.35,689.89 1247.75,691.24 C1254.59,692.95 1264.86,695.86 1272.39,698.43 C1279.36,700.81 1287.44,704.25 1292.91,706.64 C1297.12,708.48 1301.82,709.73 1305.23,712.8 C1308.65,715.88 1311.9,721.35 1313.44,725.11 C1314.74,728.3 1314.39,731.94 1314.47,735.38 C1314.64,742.91 1314.47,758.64 1314.47,770.28 C1314.47,811.84 1314.47,949.04 1314.47,984.79" fill="none" stroke="#b0b0b0" stroke-width="3.5" stroke-opacity="0.9" stroke-linejoin="round" stroke-linecap="butt"/>
<path d="M982.95,676.26 C983.29,676.36 984.32,676.67 985,676.88 C988.76,678 998.69,680.98 1005.53,683.03 C1012.37,685.09 1019.21,687.31 1026.06,689.19 C1032.86,691.06 1039.74,692.61 1046.58,694.32 C1053.43,696.03 1060.27,697.92 1067.11,699.46 C1073.92,700.99 1080.8,702.19 1087.64,703.56 C1094.48,704.93 1101.3,706.41 1108.17,707.67 C1118.43,709.55 1135.57,712.29 1149.22,714.85 C1162.91,717.42 1176.59,720.32 1190.28,723.06 C1203.96,725.8 1219.36,728.54 1231.33,731.27 C1241.69,733.64 1254.25,737.09 1262.12,739.48 C1267.71,741.19 1275.12,743.25 1278.54,745.64 C1281.05,747.4 1282.24,750.82 1282.65,753.85 C1283.68,761.38 1284.28,778.47 1284.7,790.8 C1285.39,810.65 1286.23,845.54 1286.75,872.91 C1287.37,905.24 1288.12,966.14 1288.4,984.79" fill="none" stroke="#b0b0b0" stroke-width="3.5" stroke-opacity="0.9" stroke-linejoin="round" stroke-linecap="butt"/>
<path d="M1247.75,691.24 C1251.86,692.44 1264.86,695.86 1272.39,698.43 C1279.36,700.81 1287.44,704.25 1292.91,706.64 C1297.12,708.48 1301.82,709.73 1305.23,712.8 C1308.65,715.88 1311.9,721.35 1313.44,725.11 C1314.74,728.3 1314.3,733.67 1314.47,735.38" fill="none" stroke="#b0b0b0" stroke-width="12.0" stroke-opacity="0.9" stroke-linejoin="round" stroke-linecap="butt"/>
<path d="M1141.01,562.95 C1144.09,564.66 1153.67,569.23 1159.48,573.21 C1165.98,577.66 1174.88,584.84 1180.01,589.63 C1183.92,593.28 1186.85,597.84 1190.28,601.95 C1193.7,606.06 1197.46,610.5 1200.54,614.27 C1203.31,617.66 1206.01,621.11 1208.75,624.53 C1211.49,627.95 1214.53,631.15 1216.96,634.79 C1219.7,638.9 1222.78,644.37 1225.17,649.16 C1227.5,653.82 1229.62,659.77 1231.33,663.53 C1232.6,666.32 1234.58,670.03 1235.44,671.74 C1235.78,672.43 1236.29,673.45 1236.46,673.8 C1236.46,673.8 1236.46,673.8 1236.46,673.8 C1237.66,679.61 1242.37,696.88 1243.65,708.69 C1245.53,726.14 1247.07,757.96 1247.75,778.49 C1248.34,796.27 1247.75,814.07 1247.75,831.86 C1247.75,866.24 1247.75,959.3 1247.75,984.79" fill="none" stroke="#fdae61" stroke-width="4.0" stroke-opacity="1" stroke-linejoin="round" stroke-linecap="butt"/>
<path d="M1236.46,673.8 C1237.66,679.61 1242.37,696.88 1243.65,708.69 C1245.53,726.14 1247.07,766.85 1247.75,778.49" fill="none" stroke="#fdae61" stroke-width="12.0" stroke-opacity="1" stroke-linejoin="round" stroke-linecap="butt"/>
<path d="M982.95,608.52 C983.29,608.55 984.31,608.67 985,608.72 C992.18,609.27 1012.38,610.71 1026.06,611.8 C1039.74,612.9 1053.43,614.13 1067.11,615.29 C1080.8,616.46 1094.48,617.65 1108.17,618.78 C1121.85,619.91 1135.54,620.94 1149.22,622.07 C1162.91,623.2 1180.01,624.46 1190.28,625.56 C1197.16,626.29 1203.96,627.61 1210.8,628.64 C1217.65,629.66 1224.51,630.52 1231.33,631.71 C1238.17,632.91 1245.7,634.11 1251.86,635.82 C1257.49,637.38 1264.52,640.27 1268.28,641.98 C1270.53,643 1272.78,644.26 1274.44,646.08 C1276.15,647.97 1277.37,650.77 1278.54,653.27 C1279.91,656.18 1281.28,660.11 1282.65,663.53 C1284.02,666.95 1285.41,670.36 1286.75,673.8 C1288.29,677.73 1291.03,684.74 1291.89,687.14 C1292,687.46 1291.81,687.83 1291.89,688.17 C1293.77,696.21 1301.12,726.83 1303.18,735.38 C1303.51,736.75 1304.08,738.08 1304.2,739.48 C1304.72,745.3 1305.67,760.01 1306.26,770.28 C1306.94,782.25 1307.9,797.63 1308.31,811.33 C1308.82,828.44 1309.09,852.38 1309.33,872.91 C1309.68,901.82 1310.19,966.14 1310.36,984.79" fill="none" stroke="#a50026" stroke-width="4.0" stroke-opacity="1" stroke-linejoin="round" stroke-linecap="butt"/>
<polyline points="1291.89,688.17 1303.18,735.38" fill="none" stroke="#a50026" stroke-width="12.0" stroke-opacity="1" stroke-linejoin="round" stroke-linecap="butt"/>
<text y="887.8" font-size="31.5" class="b"><tspan x="998.5" font-style="italic">ϕ</tspan><tspan x="1024.8">=</tspan><tspan x="1056.7">0.38</tspan></text>
<circle cx="1041.8" cy="916.9" r="21" fill="#ffffff" stroke="#000" stroke-width="3.2"/>
<path d="M1041.8,895.9 A21,21 0 0 0 1041.8,937.9 A15.31,21 0 0 1 1041.8,895.9 Z" fill="#404040" stroke="#000" stroke-width="2.4"/>
<circle cx="1041.8" cy="916.9" r="21" fill="none" stroke="#000" stroke-width="3.2"/>
</g>
<line x1="967.3" y1="565" x2="984.9" y2="565" stroke="#000" stroke-width="2.2"/>
<line x1="967.3" y1="657.13" x2="984.9" y2="657.13" stroke="#000" stroke-width="2.2"/>
<line x1="967.3" y1="749.27" x2="984.9" y2="749.27" stroke="#000" stroke-width="2.2"/>
<line x1="967.3" y1="841.4" x2="984.9" y2="841.4" stroke="#000" stroke-width="2.2"/>
<line x1="967.3" y1="933.53" x2="984.9" y2="933.53" stroke="#000" stroke-width="2.2"/>
<line x1="1047.83" y1="979.6" x2="1047.83" y2="997.2" stroke="#000" stroke-width="2.2"/>
<text x="1046.83" y="1037.9" font-size="36.7" text-anchor="middle" class="b">−9</text>
<line x1="1131.74" y1="979.6" x2="1131.74" y2="997.2" stroke="#000" stroke-width="2.2"/>
<text x="1130.74" y="1037.9" font-size="36.7" text-anchor="middle" class="b">−7</text>
<line x1="1215.64" y1="979.6" x2="1215.64" y2="997.2" stroke="#000" stroke-width="2.2"/>
<text x="1214.64" y="1037.9" font-size="36.7" text-anchor="middle" class="b">−5</text>
<line x1="1299.55" y1="979.6" x2="1299.55" y2="997.2" stroke="#000" stroke-width="2.2"/>
<text x="1298.55" y="1037.9" font-size="36.7" text-anchor="middle" class="b">−3</text>
<line x1="1005.88" y1="979.6" x2="1005.88" y2="989.6" stroke="#000" stroke-width="1.8"/>
<line x1="1089.78" y1="979.6" x2="1089.78" y2="989.6" stroke="#000" stroke-width="1.8"/>
<line x1="1173.69" y1="979.6" x2="1173.69" y2="989.6" stroke="#000" stroke-width="1.8"/>
<line x1="1257.59" y1="979.6" x2="1257.59" y2="989.6" stroke="#000" stroke-width="1.8"/>
<line x1="1341.5" y1="979.6" x2="1341.5" y2="989.6" stroke="#000" stroke-width="1.8"/>
<rect x="1385" y="565" width="356.6" height="414.6" fill="none" stroke="#000" stroke-width="2.4"/>
<g clip-path="url(#cp13)">
<polygon points="1383.95,644.65 1488.64,662.1 1591.28,680.57 1606.67,683.65 1642.59,693.3 1673.39,701.51 1689.81,707.67 1703.15,713.82 1711.36,725.11 1714.44,737.43 1714.44,984.79 1708.28,984.79 1707.26,749.75 1705.2,735.38 1700.07,723.06 1687.75,717.93 1671.33,711.77 1642.59,703.56 1606.67,698.43 1591.28,694.32 1488.64,675.85 1383.95,659.43" fill="#d73027" fill-opacity="0.52"/>
<polygon points="1383.95,562.95 1695.97,562.95 1695.97,565 1702.12,577.32 1706.23,595.79 1710.33,616.32 1714.44,647.11 1716.49,677.9 1718.55,708.69 1719.57,749.75 1719.57,984.79 1625.15,984.79 1625.15,749.75 1624.12,729.22 1620.01,712.8 1613.86,700.48 1607.7,690.22 1597.43,679.95 1587.17,667.64 1578.96,655.32 1570.75,647.11 1560.48,643 1529.69,634.79 1488.64,624.53 1447.58,614.27 1406.53,601.95 1383.95,595.79" fill="#fee090" fill-opacity="0.5"/>
<path d="M1383.95,639.51 C1384.29,639.58 1385.31,639.83 1386,639.93 C1396.61,641.36 1427.06,645.4 1447.58,648.14 C1468.11,650.87 1488.64,653.61 1509.17,656.35 C1529.69,659.08 1553.64,662.16 1570.75,664.56 C1584.45,666.48 1598.14,668.5 1611.8,670.72 C1625.49,672.94 1640.88,675.68 1652.86,677.9 C1663.15,679.81 1675.1,682.35 1683.65,684.06 C1690.49,685.43 1698.7,686.45 1704.18,688.17 C1708.56,689.53 1713.59,691.93 1716.49,694.32 C1718.98,696.38 1721.06,699.36 1721.62,702.53 C1722.65,708.35 1722.38,720.32 1722.65,729.22 C1722.99,740.51 1723.38,756.59 1723.68,770.28 C1724.19,794.22 1725.24,838.7 1725.73,872.91 C1726.24,908.66 1726.59,966.14 1726.76,984.79" fill="none" stroke="#b0b0b0" stroke-width="3.5" stroke-opacity="0.9" stroke-linejoin="round" stroke-linecap="butt"/>
<path d="M1478.37,661.89 C1486.93,663.36 1512.58,667.82 1529.69,670.72 C1548.51,673.9 1571.43,678.07 1591.28,680.98 C1610.38,683.78 1633.36,685.6 1648.75,688.17 C1660.54,690.13 1674.75,693.64 1683.65,696.38 C1690.09,698.36 1697.33,701.17 1702.12,704.59 C1706.47,707.69 1710.4,711.94 1712.39,716.9 C1714.44,722.04 1714.08,729.19 1714.44,735.38 C1714.95,744.27 1715.37,758.64 1715.47,770.28 C1715.81,811.84 1716.32,949.04 1716.49,984.79" fill="none" stroke="#b0b0b0" stroke-width="3.5" stroke-opacity="0.9" stroke-linejoin="round" stroke-linecap="butt"/>
<path d="M1383.95,676.26 C1384.29,676.36 1385.32,676.67 1386,676.88 C1389.76,678 1399.69,681.15 1406.53,683.03 C1413.33,684.9 1420.21,686.45 1427.06,688.17 C1433.9,689.88 1440.74,691.65 1447.58,693.3 C1454.41,694.94 1461.25,696.53 1468.11,698.02 C1478.37,700.24 1495.48,703.83 1509.17,706.64 C1522.84,709.44 1536.54,712.11 1550.22,714.85 C1563.91,717.59 1577.66,720 1591.28,723.06 C1604.96,726.14 1620.36,730.25 1632.33,733.33 C1642.62,735.97 1655.59,738.8 1663.12,741.54 C1668.31,743.42 1674.41,746.67 1677.49,749.75 C1680.1,752.35 1680.96,756.38 1681.6,760.01 C1682.79,766.85 1684.11,780.5 1684.68,790.8 C1685.7,809.62 1687.09,845.53 1687.75,872.91 C1688.54,905.24 1689.12,966.14 1689.4,984.79" fill="none" stroke="#b0b0b0" stroke-width="3.5" stroke-opacity="0.9" stroke-linejoin="round" stroke-linecap="butt"/>
<path d="M1648.75,688.17 C1654.57,689.53 1674.75,693.64 1683.65,696.38 C1690.09,698.36 1697.33,701.17 1702.12,704.59 C1706.47,707.69 1710.26,712 1712.39,716.9 C1714.61,722.04 1714.95,732.3 1715.47,735.38" fill="none" stroke="#b0b0b0" stroke-width="12.0" stroke-opacity="0.9" stroke-linejoin="round" stroke-linecap="butt"/>
<path d="M1605.64,562.95 C1608.38,565 1616.93,570.82 1622.07,575.26 C1627.19,579.7 1632,584.51 1636.44,589.63 C1640.88,594.76 1645.33,600.58 1648.75,606.06 C1652,611.24 1654.57,617.35 1656.96,622.48 C1659.17,627.2 1661.41,632.06 1663.12,636.85 C1664.8,641.54 1665.86,646.77 1667.23,651.22 C1668.5,655.35 1670.31,659.94 1671.33,663.53 C1672.2,666.56 1672.87,671.06 1673.39,672.77 C1673.52,673.23 1674.41,673.62 1674.41,673.8 C1674.41,673.97 1673.32,673.46 1673.39,673.8 C1674.58,679.61 1680.2,696.82 1681.6,708.69 C1683.65,726.14 1684.91,757.96 1685.7,778.49 C1686.38,796.26 1686.23,814.07 1686.32,831.86 C1686.49,866.24 1686.66,959.3 1686.73,984.79" fill="none" stroke="#fdae61" stroke-width="4.0" stroke-opacity="1" stroke-linejoin="round" stroke-linecap="butt"/>
<path d="M1673.39,673.8 C1674.75,679.61 1680.2,696.82 1681.6,708.69 C1683.65,726.14 1685.02,766.85 1685.7,778.49" fill="none" stroke="#fdae61" stroke-width="12.0" stroke-opacity="1" stroke-linejoin="round" stroke-linecap="butt"/>
<path d="M1383.95,653.88 C1384.29,653.95 1385.31,654.19 1386,654.29 C1394.9,655.63 1420.22,659.32 1437.32,661.89 C1454.43,664.46 1471.57,666.86 1488.64,669.69 C1505.74,672.53 1522.85,675.85 1539.96,678.93 C1557.06,682.01 1580.16,686.11 1591.28,688.17 C1596.42,689.12 1601.54,690.22 1606.67,691.24 C1615.22,692.95 1631.47,695.86 1642.59,698.43 C1652.94,700.82 1665.52,704.31 1673.39,706.64 C1678.95,708.28 1685.02,710.51 1689.81,712.39 C1694,714.03 1699.04,715.64 1702.12,717.93 C1704.87,719.97 1706.91,723.06 1708.28,726.14 C1709.65,729.22 1710.51,734.18 1710.33,736.4 C1710.22,737.85 1707.36,738.04 1707.26,739.48 C1706.98,743.42 1708.18,753.27 1708.69,760.01 C1709.2,766.65 1710.12,773.27 1710.33,779.92 C1710.95,798.74 1711.92,841.91 1712.39,872.91 C1712.9,907.06 1713.24,966.14 1713.41,984.79" fill="none" stroke="#a50026" stroke-width="4.0" stroke-opacity="1" stroke-linejoin="round" stroke-linecap="butt"/>
<path d="M1606.67,693.3 C1612.66,694.22 1631.47,696.62 1642.59,698.84 C1652.98,700.92 1665.52,704.38 1673.39,706.64 C1678.96,708.24 1685.02,710.51 1689.81,712.39 C1694,714.03 1699.04,715.64 1702.12,717.93 C1704.87,719.97 1706.91,723.06 1708.28,726.14 C1709.65,729.22 1709.99,734.69 1710.33,736.4" fill="none" stroke="#a50026" stroke-width="12.0" stroke-opacity="1" stroke-linejoin="round" stroke-linecap="butt"/>
<text y="887.8" font-size="31.5" class="b"><tspan x="1398.6" font-style="italic">ϕ</tspan><tspan x="1424.9">=</tspan><tspan x="1456.8">0.43</tspan></text>
<circle cx="1441.9" cy="916.9" r="21" fill="#ffffff" stroke="#000" stroke-width="3.2"/>
<path d="M1441.9,895.9 A21,21 0 0 0 1441.9,937.9 A19,21 0 0 1 1441.9,895.9 Z" fill="#404040" stroke="#000" stroke-width="2.4"/>
<circle cx="1441.9" cy="916.9" r="21" fill="none" stroke="#000" stroke-width="3.2"/>
</g>
<line x1="1367.4" y1="565" x2="1385" y2="565" stroke="#000" stroke-width="2.2"/>
<line x1="1367.4" y1="657.13" x2="1385" y2="657.13" stroke="#000" stroke-width="2.2"/>
<line x1="1367.4" y1="749.27" x2="1385" y2="749.27" stroke="#000" stroke-width="2.2"/>
<line x1="1367.4" y1="841.4" x2="1385" y2="841.4" stroke="#000" stroke-width="2.2"/>
<line x1="1367.4" y1="933.53" x2="1385" y2="933.53" stroke="#000" stroke-width="2.2"/>
<line x1="1447.93" y1="979.6" x2="1447.93" y2="997.2" stroke="#000" stroke-width="2.2"/>
<text x="1446.93" y="1037.9" font-size="36.7" text-anchor="middle" class="b">−9</text>
<line x1="1531.84" y1="979.6" x2="1531.84" y2="997.2" stroke="#000" stroke-width="2.2"/>
<text x="1530.84" y="1037.9" font-size="36.7" text-anchor="middle" class="b">−7</text>
<line x1="1615.74" y1="979.6" x2="1615.74" y2="997.2" stroke="#000" stroke-width="2.2"/>
<text x="1614.74" y="1037.9" font-size="36.7" text-anchor="middle" class="b">−5</text>
<line x1="1699.65" y1="979.6" x2="1699.65" y2="997.2" stroke="#000" stroke-width="2.2"/>
<text x="1698.65" y="1037.9" font-size="36.7" text-anchor="middle" class="b">−3</text>
<line x1="1405.98" y1="979.6" x2="1405.98" y2="989.6" stroke="#000" stroke-width="1.8"/>
<line x1="1489.88" y1="979.6" x2="1489.88" y2="989.6" stroke="#000" stroke-width="1.8"/>
<line x1="1573.79" y1="979.6" x2="1573.79" y2="989.6" stroke="#000" stroke-width="1.8"/>
<line x1="1657.69" y1="979.6" x2="1657.69" y2="989.6" stroke="#000" stroke-width="1.8"/>
<line x1="1741.6" y1="979.6" x2="1741.6" y2="989.6" stroke="#000" stroke-width="1.8"/>
<rect x="182.9" y="1063" width="356.6" height="414.6" fill="none" stroke="#000" stroke-width="2.4"/>
<g clip-path="url(#cp20)">
<polygon points="179.95,1103.67 243.58,1105.72 305.17,1110.86 366.75,1117.01 428.33,1125.22 469.39,1133.44 479.65,1139.59 485.81,1148.22 489.91,1164.64 496.07,1185.17 504.28,1215.96 508.39,1246.75 510.44,1308.33 511.47,1481.79 505.31,1481.79 504.28,1308.33 502.23,1246.75 496.07,1215.96 485.81,1195.43 459.12,1187.63 428.33,1185.17 397.54,1182.09 366.75,1176.95 305.17,1168.74 243.58,1160.53 179.95,1153.35" fill="#d73027" fill-opacity="0.52"/>
<polygon points="179.95,1059.95 498.12,1059.95 498.12,1062 500.18,1082.53 502.23,1103.06 505.31,1123.58 506.33,1144.11 506.33,1185.17 504.28,1226.22 503.26,1481.79 426.28,1481.79 426.28,1236.48 422.17,1215.96 416.01,1201.59 407.8,1189.27 399.59,1179.01 393.43,1164.64 381.12,1148.22 366.75,1135.9 346.22,1123.58 294.9,1111.27 274.37,1106.13 243.58,1097.92 212.79,1088.69 179.95,1078.01" fill="#fee090" fill-opacity="0.5"/>
<path d="M179.95,1137.75 C180.29,1137.78 181.32,1137.87 182,1137.95 C192.61,1139.18 223.08,1142.57 243.58,1145.14 C264.11,1147.7 284.66,1150.44 305.17,1153.35 C325.69,1156.26 349.64,1160.02 366.75,1162.58 C380.43,1164.64 394.12,1166.69 407.8,1168.74 C421.49,1170.8 436.88,1172.85 448.86,1174.9 C459.17,1176.67 471.1,1179.01 479.65,1181.06 C486.6,1182.73 494.7,1185.51 500.18,1187.22 C504.31,1188.51 509.59,1189.61 512.49,1191.32 C514.8,1192.68 517.16,1194.85 517.62,1197.48 C518.65,1203.3 518.39,1216.64 518.65,1226.22 C519.16,1244.69 520.15,1280.96 520.7,1308.33 C521.56,1350.92 523.27,1452.88 523.78,1481.79" fill="none" stroke="#b0b0b0" stroke-width="3.5" stroke-opacity="0.9" stroke-linejoin="round" stroke-linecap="butt"/>
<path d="M179.95,1148.01 C180.29,1148.04 181.32,1148.15 182,1148.22 C192.61,1149.28 223.09,1151.98 243.58,1154.37 C264.11,1156.77 284.64,1159.85 305.17,1162.58 C325.69,1165.32 349.64,1168.06 366.75,1170.8 C380.53,1173 394.8,1176.27 407.8,1179.01 C420.15,1181.61 432.41,1184.62 444.75,1187.22 C457.75,1189.95 475.89,1192.35 485.81,1195.43 C492.54,1197.52 500.18,1200.56 504.28,1205.69 C508.39,1210.82 509.61,1219.12 510.44,1226.22 C511.64,1236.48 511.36,1253.59 511.47,1267.28 C511.81,1309.87 512.32,1446.04 512.49,1481.79" fill="none" stroke="#b0b0b0" stroke-width="3.5" stroke-opacity="0.9" stroke-linejoin="round" stroke-linecap="butt"/>
<path d="M179.95,1175.31 C180.29,1175.41 181.32,1175.72 182,1175.93 C185.76,1177.06 195.69,1180.2 202.53,1182.09 C209.33,1183.96 216.21,1185.51 223.06,1187.22 C229.9,1188.93 236.74,1190.78 243.58,1192.35 C250.4,1193.92 257.27,1195.21 264.11,1196.66 C272.66,1198.47 284.64,1201.18 294.9,1203.23 C305.14,1205.28 315.46,1206.89 325.69,1208.98 C341.09,1212.12 370.17,1218.21 387.28,1222.11 C401.03,1225.25 416.36,1229.64 428.33,1232.38 C438.53,1234.71 451.59,1236.48 459.12,1238.54 C464.15,1239.91 470.27,1240.6 473.49,1244.69 C477.25,1249.48 481.05,1259.29 481.7,1267.28 C483.41,1288.14 483.1,1335.7 483.75,1369.91 C484.44,1405.66 485.47,1463.14 485.81,1481.79" fill="none" stroke="#b0b0b0" stroke-width="3.5" stroke-opacity="0.9" stroke-linejoin="round" stroke-linecap="butt"/>
<path d="M444.75,1193.38 C450.57,1194.06 469.73,1194.74 479.65,1197.48 C488.5,1199.92 499.15,1205.01 504.28,1209.8 C508.56,1213.79 509.24,1222.29 510.44,1226.22 C511.14,1228.53 511.3,1232.21 511.47,1233.4" fill="none" stroke="#b0b0b0" stroke-width="12.0" stroke-opacity="0.9" stroke-linejoin="round" stroke-linecap="butt"/>
<path d="M452.96,1059.95 C453.99,1062.34 457.29,1069.44 459.12,1074.32 C461.17,1079.79 463.57,1086.98 465.28,1092.79 C466.87,1098.2 468.36,1104.08 469.39,1109.21 C470.33,1113.96 470.87,1118.78 471.44,1123.58 C472.12,1129.4 473.02,1137.25 473.49,1144.11 C474,1151.64 474.18,1164.3 474.52,1168.74 C474.58,1169.51 475.37,1170.45 475.54,1170.8 C475.54,1170.8 475.54,1170.8 475.54,1170.8 C475.82,1180.03 476.84,1208.43 477.19,1226.22 C477.51,1243.32 477.53,1260.43 477.6,1277.54 C477.66,1294.65 477.6,1311.75 477.6,1328.86 C477.6,1362.9 477.6,1456.3 477.6,1481.79" fill="none" stroke="#fdae61" stroke-width="4.0" stroke-opacity="1" stroke-linejoin="round" stroke-linecap="butt"/>
<path d="M475.54,1170.8 C475.82,1180.03 476.84,1208.43 477.19,1226.22 C477.51,1243.32 477.53,1268.99 477.6,1277.54" fill="none" stroke="#fdae61" stroke-width="12.0" stroke-opacity="1" stroke-linejoin="round" stroke-linecap="butt"/>
<path d="M179.95,1110.03 C180.29,1110.07 181.31,1110.2 182,1110.24 C189.18,1110.62 209.38,1111.37 223.06,1112.29 C236.74,1113.22 250.43,1114.58 264.11,1115.78 C277.8,1116.98 291.48,1118.25 305.17,1119.48 C318.85,1120.71 332.54,1121.97 346.22,1123.17 C359.9,1124.37 373.62,1125.23 387.28,1126.66 C400.96,1128.1 416.36,1130.08 428.33,1131.79 C438.63,1133.27 452.28,1135.63 459.12,1136.93 C462.59,1137.59 466,1138.58 469.39,1139.59 C472.81,1140.62 477.25,1141.65 479.65,1143.08 C481.53,1144.21 483.03,1146.15 483.75,1148.22 C484.78,1151.12 484.8,1156.49 485.81,1160.53 C486.83,1164.64 488.54,1168.74 489.91,1172.85 C491.28,1176.95 492.97,1180.97 494.02,1185.17 C496.58,1195.43 503.6,1225.88 505.31,1234.43 C505.46,1235.18 504.26,1235.72 504.28,1236.48 C504.45,1241.96 505.75,1257.01 506.33,1267.28 C507.02,1279.25 507.98,1294.63 508.39,1308.33 C508.9,1325.44 509.17,1349.38 509.41,1369.91 C509.76,1398.82 510.27,1463.14 510.44,1481.79" fill="none" stroke="#a50026" stroke-width="4.0" stroke-opacity="1" stroke-linejoin="round" stroke-linecap="butt"/>
<polyline points="494.02,1187.22 505.31,1234.43" fill="none" stroke="#a50026" stroke-width="12.0" stroke-opacity="1" stroke-linejoin="round" stroke-linecap="butt"/>
<text y="1385.8" font-size="31.5" class="b"><tspan x="196.5" font-style="italic">ϕ</tspan><tspan x="222.8">=</tspan><tspan x="254.7">0.57</tspan></text>
<circle cx="239.8" cy="1414.9" r="21" fill="#ffffff" stroke="#000" stroke-width="3.2"/>
<path d="M239.8,1393.9 A21,21 0 0 1 239.8,1435.9 A19,21 0 0 0 239.8,1393.9 Z" fill="#404040" stroke="#000" stroke-width="2.4"/>
<circle cx="239.8" cy="1414.9" r="21" fill="none" stroke="#000" stroke-width="3.2"/>
</g>
<line x1="165.3" y1="1063" x2="182.9" y2="1063" stroke="#000" stroke-width="2.2"/>
<text x="153.9" y="1077.1" font-size="36.7" text-anchor="end" class="b">−4</text>
<line x1="165.3" y1="1155.13" x2="182.9" y2="1155.13" stroke="#000" stroke-width="2.2"/>
<text x="153.9" y="1169.23" font-size="36.7" text-anchor="end" class="b">−3</text>
<line x1="165.3" y1="1247.27" x2="182.9" y2="1247.27" stroke="#000" stroke-width="2.2"/>
<text x="153.9" y="1261.37" font-size="36.7" text-anchor="end" class="b">−2</text>
<line x1="165.3" y1="1339.4" x2="182.9" y2="1339.4" stroke="#000" stroke-width="2.2"/>
<text x="153.9" y="1353.5" font-size="36.7" text-anchor="end" class="b">−1</text>
<line x1="165.3" y1="1431.53" x2="182.9" y2="1431.53" stroke="#000" stroke-width="2.2"/>
<text x="153.9" y="1445.63" font-size="36.7" text-anchor="end" class="b">0</text>
<line x1="245.83" y1="1477.6" x2="245.83" y2="1495.2" stroke="#000" stroke-width="2.2"/>
<text x="244.83" y="1535.9" font-size="36.7" text-anchor="middle" class="b">−9</text>
<line x1="329.74" y1="1477.6" x2="329.74" y2="1495.2" stroke="#000" stroke-width="2.2"/>
<text x="328.74" y="1535.9" font-size="36.7" text-anchor="middle" class="b">−7</text>
<line x1="413.64" y1="1477.6" x2="413.64" y2="1495.2" stroke="#000" stroke-width="2.2"/>
<text x="412.64" y="1535.9" font-size="36.7" text-anchor="middle" class="b">−5</text>
<line x1="497.55" y1="1477.6" x2="497.55" y2="1495.2" stroke="#000" stroke-width="2.2"/>
<text x="496.55" y="1535.9" font-size="36.7" text-anchor="middle" class="b">−3</text>
<line x1="203.88" y1="1477.6" x2="203.88" y2="1487.6" stroke="#000" stroke-width="1.8"/>
<line x1="287.78" y1="1477.6" x2="287.78" y2="1487.6" stroke="#000" stroke-width="1.8"/>
<line x1="371.69" y1="1477.6" x2="371.69" y2="1487.6" stroke="#000" stroke-width="1.8"/>
<line x1="455.59" y1="1477.6" x2="455.59" y2="1487.6" stroke="#000" stroke-width="1.8"/>
<line x1="539.5" y1="1477.6" x2="539.5" y2="1487.6" stroke="#000" stroke-width="1.8"/>
<rect x="583.6" y="1063" width="356.6" height="414.6" fill="none" stroke="#000" stroke-width="2.4"/>
<g clip-path="url(#cp21)">
<polygon points="581.95,1110.24 645.58,1117.42 707.17,1125.64 768.75,1133.85 809.8,1140 850.86,1148.22 867.28,1158.48 873.44,1170.8 879.6,1185.17 898.07,1201.59 910.39,1218.01 912.44,1246.75 913.47,1481.79 907.31,1481.79 906.28,1246.75 904.23,1226.22 891.91,1211.85 871.39,1203.64 850.86,1199.53 809.8,1193.38 768.75,1185.17 707.17,1174.9 645.58,1166.69 581.95,1156.43" fill="#d73027" fill-opacity="0.52"/>
<polygon points="581.95,1059.95 887.81,1059.95 887.81,1062 896.02,1078.42 902.18,1098.95 906.28,1123.58 910.39,1154.37 912.44,1185.17 912.44,1226.22 911.41,1267.28 911.41,1481.79 818.01,1481.79 818.01,1236.48 815.96,1222.11 809.8,1205.69 799.54,1191.32 789.28,1176.95 779.01,1158.48 768.75,1148.22 748.22,1140 707.17,1129.74 645.58,1121.53 581.95,1110.24" fill="#fee090" fill-opacity="0.5"/>
<path d="M581.95,1137.75 C582.29,1137.78 583.32,1137.88 584,1137.95 C594.61,1139.01 625.09,1141.72 645.58,1144.11 C666.11,1146.5 686.69,1149.25 707.17,1152.32 C727.69,1155.4 751.64,1159.85 768.75,1162.58 C782.41,1164.77 796.14,1166.52 809.8,1168.74 C823.49,1170.97 840.59,1173.88 850.86,1175.93 C857.77,1177.31 864.54,1179.52 871.39,1181.06 C878.19,1182.59 885.75,1183.45 891.91,1185.17 C897.55,1186.73 904.23,1189.27 908.33,1191.32 C911.39,1192.85 914.66,1195.09 916.55,1197.48 C918.35,1199.78 919.38,1202.78 919.62,1205.69 C920.31,1213.9 920.31,1233.06 920.65,1246.75 C921.16,1267.28 922.23,1301.48 922.7,1328.86 C923.39,1368.03 924.41,1456.3 924.76,1481.79" fill="none" stroke="#b0b0b0" stroke-width="3.5" stroke-opacity="0.9" stroke-linejoin="round" stroke-linecap="butt"/>
<path d="M900.12,1203.64 C901.83,1206.03 908.33,1212.54 910.39,1218.01 C912.44,1223.48 912.39,1230.29 912.44,1236.48 C912.78,1280.45 912.44,1440.9 912.44,1481.79" fill="none" stroke="#b0b0b0" stroke-width="3.5" stroke-opacity="0.9" stroke-linejoin="round" stroke-linecap="butt"/>
<path d="M581.95,1175.31 C582.29,1175.41 583.32,1175.72 584,1175.93 C587.76,1177.06 597.69,1180.2 604.53,1182.09 C611.33,1183.96 618.21,1185.51 625.06,1187.22 C631.9,1188.93 638.74,1190.78 645.58,1192.35 C652.4,1193.92 659.27,1195.21 666.11,1196.66 C674.66,1198.47 686.64,1201.18 696.9,1203.23 C707.14,1205.28 717.46,1206.89 727.69,1208.98 C743.09,1212.12 772.17,1218.21 789.28,1222.11 C803.03,1225.25 818.36,1229.64 830.33,1232.38 C840.53,1234.71 854.28,1236.48 861.12,1238.54 C864.94,1239.68 868.56,1241.87 871.39,1244.69 C874.46,1247.77 878.24,1252.27 879.6,1257.01 C881.65,1264.2 883.37,1277.45 883.7,1287.8 C884.9,1325.27 886.27,1449.46 886.78,1481.79" fill="none" stroke="#b0b0b0" stroke-width="3.5" stroke-opacity="0.9" stroke-linejoin="round" stroke-linecap="butt"/>
<polyline points="847.78,1189.27 853.94,1195.43" fill="none" stroke="#b0b0b0" stroke-width="12.0" stroke-opacity="0.9" stroke-linejoin="round" stroke-linecap="butt"/>
<path d="M772.85,1059.95 C774.91,1061.66 781.09,1066.76 785.17,1070.21 C789.62,1073.97 795.43,1078.42 799.54,1082.53 C803.32,1086.31 806.38,1090.74 809.8,1094.84 C813.22,1098.95 816.65,1103.74 820.07,1107.16 C823.16,1110.26 827.38,1112.13 830.33,1115.37 C833.75,1119.13 837.51,1124.95 840.59,1129.74 C843.58,1134.38 846.41,1139.32 848.81,1144.11 C851.14,1148.77 853.25,1154.37 854.96,1158.48 C856.38,1161.88 858.04,1166.69 859.07,1168.74 C859.5,1169.61 860.78,1170.45 861.12,1170.8 C861.12,1170.8 861.12,1170.8 861.12,1170.8 C862.83,1176.61 869.65,1193.69 871.39,1205.69 C873.95,1223.48 875.66,1257.01 876.52,1277.54 C877.23,1294.63 876.52,1311.75 876.52,1328.86 C876.52,1362.9 876.52,1456.3 876.52,1481.79" fill="none" stroke="#fdae61" stroke-width="4.0" stroke-opacity="1" stroke-linejoin="round" stroke-linecap="butt"/>
<path d="M861.12,1170.8 C862.83,1176.61 869.65,1193.69 871.39,1205.69 C873.95,1223.48 875.66,1265.56 876.52,1277.54" fill="none" stroke="#fdae61" stroke-width="12.0" stroke-opacity="1" stroke-linejoin="round" stroke-linecap="butt"/>
<path d="M581.95,1148.01 C582.29,1148.04 583.32,1148.13 584,1148.22 C591.18,1149.11 611.39,1151.47 625.06,1153.35 C638.74,1155.23 652.43,1157.62 666.11,1159.51 C679.77,1161.38 693.5,1162.76 707.17,1164.64 C720.85,1166.52 734.54,1168.74 748.22,1170.8 C761.91,1172.85 775.62,1174.73 789.28,1176.95 C802.96,1179.18 820.75,1182.26 830.33,1184.14 C835.87,1185.23 842.3,1187.22 846.75,1188.24 C850.15,1189.03 853.78,1188.98 857.02,1190.3 C862.49,1192.52 873.1,1198.34 879.6,1201.59 C885.07,1204.32 891.57,1206.72 896.02,1209.8 C900,1212.55 904.23,1215.96 906.28,1220.06 C908.33,1224.17 908.33,1231.69 908.33,1234.43 C908.33,1235.4 906.28,1235.52 906.28,1236.48 C906.28,1241.96 907.99,1256.99 908.33,1267.28 C908.85,1282.67 909.16,1308.33 909.36,1328.86 C909.7,1364.61 910.22,1456.3 910.39,1481.79" fill="none" stroke="#a50026" stroke-width="4.0" stroke-opacity="1" stroke-linejoin="round" stroke-linecap="butt"/>
<path d="M857.02,1190.3 C860.78,1192.18 873.1,1198.34 879.6,1201.59 C885.07,1204.32 891.57,1206.72 896.02,1209.8 C900,1212.55 904.23,1215.96 906.28,1220.06 C908.33,1224.17 907.99,1232.04 908.33,1234.43" fill="none" stroke="#a50026" stroke-width="12.0" stroke-opacity="1" stroke-linejoin="round" stroke-linecap="butt"/>
<text y="1385.8" font-size="31.5" class="b"><tspan x="597.2" font-style="italic">ϕ</tspan><tspan x="623.5">=</tspan><tspan x="655.4">0.62</tspan></text>
<circle cx="640.5" cy="1414.9" r="21" fill="#ffffff" stroke="#000" stroke-width="3.2"/>
<path d="M640.5,1393.9 A21,21 0 0 1 640.5,1435.9 A15.31,21 0 0 0 640.5,1393.9 Z" fill="#404040" stroke="#000" stroke-width="2.4"/>
<circle cx="640.5" cy="1414.9" r="21" fill="none" stroke="#000" stroke-width="3.2"/>
</g>
<line x1="566" y1="1063" x2="583.6" y2="1063" stroke="#000" stroke-width="2.2"/>
<line x1="566" y1="1155.13" x2="583.6" y2="1155.13" stroke="#000" stroke-width="2.2"/>
<line x1="566" y1="1247.27" x2="583.6" y2="1247.27" stroke="#000" stroke-width="2.2"/>
<line x1="566" y1="1339.4" x2="583.6" y2="1339.4" stroke="#000" stroke-width="2.2"/>
<line x1="566" y1="1431.53" x2="583.6" y2="1431.53" stroke="#000" stroke-width="2.2"/>
<line x1="646.53" y1="1477.6" x2="646.53" y2="1495.2" stroke="#000" stroke-width="2.2"/>
<text x="645.53" y="1535.9" font-size="36.7" text-anchor="middle" class="b">−9</text>
<line x1="730.44" y1="1477.6" x2="730.44" y2="1495.2" stroke="#000" stroke-width="2.2"/>
<text x="729.44" y="1535.9" font-size="36.7" text-anchor="middle" class="b">−7</text>
<line x1="814.34" y1="1477.6" x2="814.34" y2="1495.2" stroke="#000" stroke-width="2.2"/>
<text x="813.34" y="1535.9" font-size="36.7" text-anchor="middle" class="b">−5</text>
<line x1="898.25" y1="1477.6" x2="898.25" y2="1495.2" stroke="#000" stroke-width="2.2"/>
<text x="897.25" y="1535.9" font-size="36.7" text-anchor="middle" class="b">−3</text>
<line x1="604.58" y1="1477.6" x2="604.58" y2="1487.6" stroke="#000" stroke-width="1.8"/>
<line x1="688.48" y1="1477.6" x2="688.48" y2="1487.6" stroke="#000" stroke-width="1.8"/>
<line x1="772.39" y1="1477.6" x2="772.39" y2="1487.6" stroke="#000" stroke-width="1.8"/>
<line x1="856.29" y1="1477.6" x2="856.29" y2="1487.6" stroke="#000" stroke-width="1.8"/>
<line x1="940.2" y1="1477.6" x2="940.2" y2="1487.6" stroke="#000" stroke-width="1.8"/>
<rect x="984.9" y="1063" width="356.6" height="414.6" fill="none" stroke="#000" stroke-width="2.4"/>
<g clip-path="url(#cp22)">
<polygon points="1116.38,1059.95 1116.38,1062 1128.69,1070.21 1149.22,1080.47 1169.75,1088.69 1190.28,1096.9 1202.59,1105.11 1210.8,1115.37 1221.07,1127.69 1231.33,1137.95 1243.65,1148.22 1258.02,1160.53 1266.23,1168.74 1276.49,1181.06 1288.81,1205.69 1299.07,1236.48 1305.23,1267.28 1308.31,1328.86 1308.31,1481.79 1314.47,1481.79 1313.44,1328.86 1310.36,1267.28 1305.23,1236.48 1297.02,1205.69 1288.81,1181.06 1272.39,1168.74 1268.28,1156.43 1260.07,1144.11 1247.75,1127.69 1231.33,1109.21 1210.8,1088.69 1190.28,1070.21 1180.01,1059.95" fill="#d73027" fill-opacity="0.52"/>
<polygon points="982.95,1059.95 1292.91,1059.95 1292.91,1062 1299.07,1078.42 1305.23,1098.95 1309.33,1119.48 1313.44,1144.11 1315.49,1174.9 1317.55,1205.69 1319.6,1246.75 1320.62,1481.79 1225.17,1481.79 1225.17,1257.01 1224.15,1236.48 1219.01,1213.9 1210.8,1197.48 1200.54,1185.17 1190.28,1174.9 1180.01,1164.64 1169.75,1158.48 1149.22,1148.22 1108.17,1140 1087.64,1135.9 1067.11,1129.74 1046.58,1123.58 1026.06,1117.42 1005.53,1111.27 982.95,1108.19" fill="#fee090" fill-opacity="0.5"/>
<path d="M982.95,1137.75 C983.29,1137.78 984.32,1137.86 985,1137.95 C995.61,1139.35 1026.06,1143.43 1046.58,1146.16 C1067.11,1148.9 1087.64,1151.64 1108.17,1154.37 C1128.69,1157.11 1152.64,1160.19 1169.75,1162.58 C1183.45,1164.5 1197.17,1166.36 1210.8,1168.74 C1224.49,1171.14 1241.59,1174.9 1251.86,1176.95 C1258.7,1178.32 1265.54,1179.69 1272.39,1181.06 C1279.23,1182.43 1286.75,1183.8 1292.91,1185.17 C1298.42,1186.39 1305.23,1187.56 1309.33,1189.27 C1312.49,1190.59 1315.66,1193.03 1317.55,1195.43 C1319.35,1197.73 1320.39,1200.73 1320.62,1203.64 C1321.31,1212.19 1321.3,1232.38 1321.65,1246.75 C1322.16,1267.62 1323.23,1301.48 1323.7,1328.86 C1324.39,1368.03 1325.41,1456.3 1325.76,1481.79" fill="none" stroke="#b0b0b0" stroke-width="3.5" stroke-opacity="0.9" stroke-linejoin="round" stroke-linecap="butt"/>
<path d="M982.95,1150.06 C983.29,1150.1 984.32,1150.18 985,1150.27 C995.61,1151.67 1026.06,1155.74 1046.58,1158.48 C1067.11,1161.22 1087.64,1163.95 1108.17,1166.69 C1128.69,1169.43 1152.64,1172.51 1169.75,1174.9 C1183.45,1176.82 1197.8,1178.84 1210.8,1181.06 C1223.17,1183.18 1238.17,1185.85 1247.75,1188.24 C1254.79,1190 1261.42,1193.09 1268.28,1195.43 C1275.81,1197.99 1286.07,1200.9 1292.91,1203.64 C1298.6,1205.91 1305.91,1208.09 1309.33,1211.85 C1312.69,1215.54 1313.07,1221.25 1313.44,1226.22 C1314.12,1235.46 1313.44,1253.59 1313.44,1267.28 C1313.44,1309.87 1313.44,1446.04 1313.44,1481.79" fill="none" stroke="#b0b0b0" stroke-width="3.5" stroke-opacity="0.9" stroke-linejoin="round" stroke-linecap="butt"/>
<path d="M982.95,1176.34 C983.29,1176.44 984.31,1176.78 985,1176.95 C988.76,1177.91 998.69,1180.38 1005.53,1182.09 C1012.37,1183.8 1019.21,1185.51 1026.06,1187.22 C1032.9,1188.93 1039.74,1190.78 1046.58,1192.35 C1053.4,1193.92 1060.27,1195.21 1067.11,1196.66 C1075.66,1198.47 1087.64,1201.18 1097.9,1203.23 C1108.14,1205.28 1118.46,1206.89 1128.69,1208.98 C1144.09,1212.12 1173.17,1218.21 1190.28,1222.11 C1204.03,1225.25 1219.36,1229.64 1231.33,1232.38 C1241.53,1234.71 1254.59,1236.14 1262.12,1238.54 C1267.38,1240.21 1273.08,1242.41 1276.49,1246.75 C1280.25,1251.54 1284.09,1259.93 1284.7,1267.28 C1286.41,1287.8 1286.26,1335.7 1286.75,1369.91 C1287.27,1405.66 1287.61,1463.14 1287.78,1481.79" fill="none" stroke="#b0b0b0" stroke-width="3.5" stroke-opacity="0.9" stroke-linejoin="round" stroke-linecap="butt"/>
<path d="M1247.75,1191.32 C1251.17,1192.35 1261.39,1195.6 1268.28,1197.48 C1275.81,1199.53 1286.07,1201.25 1292.91,1203.64 C1298.69,1205.66 1305.91,1208.09 1309.33,1211.85 C1312.69,1215.54 1312.59,1222.46 1313.44,1226.22 C1314.05,1228.91 1314.3,1233.06 1314.47,1234.43" fill="none" stroke="#b0b0b0" stroke-width="12.0" stroke-opacity="0.9" stroke-linejoin="round" stroke-linecap="butt"/>
<path d="M1189.25,1059.95 C1189.42,1060.29 1189.75,1061.44 1190.28,1062 C1192.5,1064.39 1198.81,1069.91 1202.59,1074.32 C1206.7,1079.11 1210.8,1085.61 1214.91,1090.74 C1218.85,1095.66 1223.28,1100.18 1227.22,1105.11 C1231.33,1110.24 1235.78,1116.74 1239.54,1121.53 C1242.84,1125.73 1246.73,1129.74 1249.81,1133.85 C1252.77,1137.79 1255.62,1142.06 1258.02,1146.16 C1260.33,1150.13 1262.46,1154.72 1264.17,1158.48 C1265.7,1161.83 1267.42,1166.35 1268.28,1168.74 C1268.75,1170.07 1269.31,1172.16 1269.31,1172.85 C1269.31,1173.19 1268.19,1172.52 1268.28,1172.85 C1269.82,1178.32 1276.98,1194.33 1278.54,1205.69 C1280.94,1223.14 1281.9,1257.01 1282.65,1277.54 C1283.28,1294.63 1282.97,1311.75 1283.06,1328.86 C1283.23,1362.9 1283.57,1456.3 1283.68,1481.79" fill="none" stroke="#fdae61" stroke-width="4.0" stroke-opacity="1" stroke-linejoin="round" stroke-linecap="butt"/>
<path d="M1268.28,1172.85 C1269.99,1178.32 1276.98,1194.33 1278.54,1205.69 C1280.94,1223.14 1281.96,1265.56 1282.65,1277.54" fill="none" stroke="#fdae61" stroke-width="12.0" stroke-opacity="1" stroke-linejoin="round" stroke-linecap="butt"/>
<path d="M1177.96,1059.95 C1178.13,1060.29 1178.49,1061.42 1178.99,1062 C1181.04,1064.39 1186.59,1070.15 1190.28,1074.32 C1194.21,1078.76 1198.49,1083.9 1202.59,1088.69 C1206.7,1093.48 1210.8,1098.61 1214.91,1103.06 C1218.85,1107.32 1223.29,1111.11 1227.22,1115.37 C1231.33,1119.82 1235.78,1125.29 1239.54,1129.74 C1242.99,1133.82 1246.73,1138.29 1249.81,1142.06 C1252.58,1145.45 1255.44,1148.78 1258.02,1152.32 C1260.75,1156.08 1263.83,1161.22 1266.23,1164.64 C1268.19,1167.44 1270.28,1170.15 1272.39,1172.85 C1274.78,1175.93 1278.89,1181.06 1280.6,1183.11 C1281.22,1183.86 1282.31,1184.26 1282.65,1185.17 C1285.73,1193.38 1296.68,1223.83 1299.07,1232.38 C1299.48,1233.85 1296.83,1234.97 1297.02,1236.48 C1297.53,1240.59 1301.04,1250.05 1302.15,1257.01 C1303.52,1265.56 1304.35,1277.53 1305.23,1287.8 C1306.26,1299.78 1307.62,1315.15 1308.31,1328.86 C1309.16,1345.96 1309.95,1369.91 1310.36,1390.44 C1310.87,1415.93 1311.22,1466.56 1311.39,1481.79" fill="none" stroke="#a50026" stroke-width="4.0" stroke-opacity="1" stroke-linejoin="round" stroke-linecap="butt"/>
<polyline points="1282.65,1185.17 1299.07,1232.38" fill="none" stroke="#a50026" stroke-width="12.0" stroke-opacity="1" stroke-linejoin="round" stroke-linecap="butt"/>
<text y="1385.8" font-size="31.5" class="b"><tspan x="998.5" font-style="italic">ϕ</tspan><tspan x="1024.8">=</tspan><tspan x="1056.7">0.68</tspan></text>
<circle cx="1041.8" cy="1414.9" r="21" fill="#ffffff" stroke="#000" stroke-width="3.2"/>
<path d="M1041.8,1393.9 A21,21 0 0 1 1041.8,1435.9 A8.94,21 0 0 0 1041.8,1393.9 Z" fill="#404040" stroke="#000" stroke-width="2.4"/>
<circle cx="1041.8" cy="1414.9" r="21" fill="none" stroke="#000" stroke-width="3.2"/>
</g>
<line x1="967.3" y1="1063" x2="984.9" y2="1063" stroke="#000" stroke-width="2.2"/>
<line x1="967.3" y1="1155.13" x2="984.9" y2="1155.13" stroke="#000" stroke-width="2.2"/>
<line x1="967.3" y1="1247.27" x2="984.9" y2="1247.27" stroke="#000" stroke-width="2.2"/>
<line x1="967.3" y1="1339.4" x2="984.9" y2="1339.4" stroke="#000" stroke-width="2.2"/>
<line x1="967.3" y1="1431.53" x2="984.9" y2="1431.53" stroke="#000" stroke-width="2.2"/>
<line x1="1047.83" y1="1477.6" x2="1047.83" y2="1495.2" stroke="#000" stroke-width="2.2"/>
<text x="1046.83" y="1535.9" font-size="36.7" text-anchor="middle" class="b">−9</text>
<line x1="1131.74" y1="1477.6" x2="1131.74" y2="1495.2" stroke="#000" stroke-width="2.2"/>
<text x="1130.74" y="1535.9" font-size="36.7" text-anchor="middle" class="b">−7</text>
<line x1="1215.64" y1="1477.6" x2="1215.64" y2="1495.2" stroke="#000" stroke-width="2.2"/>
<text x="1214.64" y="1535.9" font-size="36.7" text-anchor="middle" class="b">−5</text>
<line x1="1299.55" y1="1477.6" x2="1299.55" y2="1495.2" stroke="#000" stroke-width="2.2"/>
<text x="1298.55" y="1535.9" font-size="36.7" text-anchor="middle" class="b">−3</text>
<line x1="1005.88" y1="1477.6" x2="1005.88" y2="1487.6" stroke="#000" stroke-width="1.8"/>
<line x1="1089.78" y1="1477.6" x2="1089.78" y2="1487.6" stroke="#000" stroke-width="1.8"/>
<line x1="1173.69" y1="1477.6" x2="1173.69" y2="1487.6" stroke="#000" stroke-width="1.8"/>
<line x1="1257.59" y1="1477.6" x2="1257.59" y2="1487.6" stroke="#000" stroke-width="1.8"/>
<line x1="1341.5" y1="1477.6" x2="1341.5" y2="1487.6" stroke="#000" stroke-width="1.8"/>
<rect x="1385" y="1063" width="356.6" height="414.6" fill="none" stroke="#000" stroke-width="2.4"/>
<g clip-path="url(#cp23)">
<polygon points="1665.17,1059.95 1728.81,1059.95 1728.81,1481.79 1668.25,1481.79 1667.23,1328.86 1665.58,1185.17" fill="#4575b4" fill-opacity="0.5"/>
<polygon points="1383.95,1059.95 1589.22,1059.95 1589.22,1062 1601.54,1068.16 1611.8,1076.37 1620.01,1086.63 1628.22,1096.9 1636.44,1107.16 1644.65,1117.42 1650.81,1129.74 1656.96,1142.06 1661.07,1154.37 1664.15,1174.9 1665.17,1185.17 1679.54,1181.06 1687.75,1205.69 1691.86,1226.22 1691.86,1481.79 1383.95,1481.79" fill="#a6dba0" fill-opacity="0.5"/>
<path d="M1670.31,1059.95 C1670.31,1090.05 1669.45,1206.03 1670.31,1240.59 C1670.53,1249.64 1673.9,1259.41 1675.44,1267.28 C1676.78,1274.12 1678.62,1280.89 1679.54,1287.8 C1680.91,1298.07 1683.37,1315.11 1683.65,1328.86 C1683.99,1345.96 1682.62,1376.76 1681.6,1390.44 C1681.07,1397.4 1679.18,1404.2 1677.49,1410.97 C1675.78,1417.81 1674.39,1425.04 1671.33,1431.5 C1668.25,1438 1664.68,1445.2 1659.02,1449.97 C1652.52,1455.44 1641.39,1459.88 1632.33,1464.34 C1623.16,1468.86 1610.84,1474.16 1604,1477.07 C1599.84,1478.84 1593.4,1481 1591.28,1481.79" fill="none" stroke="#b0b0b0" stroke-width="3.5" stroke-opacity="0.9" stroke-linejoin="round" stroke-linecap="butt"/>
<path d="M1676.46,1059.95 C1676.46,1090.05 1675.61,1206.03 1676.46,1240.59 C1676.69,1249.64 1680.37,1258.3 1681.6,1267.28 C1683.14,1278.57 1684.68,1294.65 1685.7,1308.33 C1686.73,1321.99 1687.75,1335.68 1687.75,1349.39 C1687.75,1366.49 1686.73,1393.86 1685.7,1410.97 C1684.88,1424.7 1682.96,1440.22 1681.6,1452.02 C1680.44,1461.97 1678.18,1476.83 1677.49,1481.79" fill="none" stroke="#b0b0b0" stroke-width="3.5" stroke-opacity="0.9" stroke-linejoin="round" stroke-linecap="butt"/>
<path d="M1383.95,1108.19 C1384.29,1108.36 1385.32,1108.87 1386,1109.21 C1389.76,1111.09 1400.37,1116.06 1406.53,1119.48 C1412.17,1122.61 1417.63,1126.08 1422.95,1129.74 C1428.42,1133.5 1435.27,1138.64 1439.37,1142.06 C1442.35,1144.54 1444.54,1147.88 1447.58,1150.27 C1452.37,1154.03 1461.95,1160.53 1468.11,1164.64 C1473.48,1168.22 1480.43,1171.48 1484.53,1174.9 C1487.9,1177.71 1489.77,1181.95 1492.74,1185.17 C1496.85,1189.61 1504.38,1196.46 1509.17,1201.59 C1513.47,1206.2 1518.06,1211.51 1521.48,1215.96 C1524.49,1219.87 1527.98,1224.17 1529.69,1228.27 C1531.29,1232.11 1531.4,1236.83 1531.75,1240.59 C1532.06,1244 1531.75,1247.43 1531.75,1250.85 C1531.75,1291.05 1531.75,1443.3 1531.75,1481.79" fill="none" stroke="#66c2a5" stroke-width="4.0" stroke-opacity="1" stroke-linejoin="round" stroke-linecap="butt"/>
<polyline points="1530.72,1312.44 1530.72,1427.39" fill="none" stroke="#66c2a5" stroke-width="12.0" stroke-opacity="1" stroke-linejoin="round" stroke-linecap="butt"/>
<path d="M1665.58,1059.95 C1665.58,1090.05 1665.31,1209.97 1665.58,1240.59 C1665.6,1241.75 1667.02,1242.52 1667.23,1243.67 C1668.01,1248.12 1668.97,1259.45 1670.31,1267.28 C1671.67,1275.32 1673.21,1285.07 1675.44,1291.91 C1677.33,1297.73 1680.91,1302.86 1683.65,1308.33 C1686.39,1313.8 1690.83,1321.67 1691.86,1324.75 C1692.17,1325.67 1689.81,1325.84 1689.81,1326.81 C1689.81,1330.91 1690.15,1342.2 1691.86,1349.39 C1693.57,1356.55 1697.68,1363.07 1700.07,1369.91 C1702.43,1376.66 1704.69,1383.6 1706.23,1390.44 C1707.75,1397.19 1709.31,1404.13 1709.31,1410.97 C1709.31,1417.81 1707.75,1424.75 1706.23,1431.5 C1704.69,1438.34 1702.47,1445.86 1700.07,1452.02 C1697.85,1457.73 1693.91,1463.48 1691.86,1468.44 C1690.08,1472.74 1688.44,1479.56 1687.75,1481.79" fill="none" stroke="#313695" stroke-width="4.0" stroke-opacity="1" stroke-linejoin="round" stroke-linecap="butt"/>
<path d="M1667.23,1243.67 C1667.74,1247.6 1668.97,1259.45 1670.31,1267.28 C1671.67,1275.32 1673.21,1285.07 1675.44,1291.91 C1677.33,1297.73 1680.65,1303 1683.65,1308.33 C1686.73,1313.8 1692.2,1322.02 1693.91,1324.75" fill="none" stroke="#313695" stroke-width="12.0" stroke-opacity="1" stroke-linejoin="round" stroke-linecap="butt"/>
<text y="1385.8" font-size="31.5" class="b"><tspan x="1398.6" font-style="italic">ϕ</tspan><tspan x="1424.9">=</tspan><tspan x="1456.8">0.72</tspan></text>
<circle cx="1441.9" cy="1414.9" r="21" fill="#ffffff" stroke="#000" stroke-width="3.2"/>
<path d="M1441.9,1393.9 A21,21 0 0 1 1441.9,1435.9 A3.94,21 0 0 0 1441.9,1393.9 Z" fill="#404040" stroke="#000" stroke-width="2.4"/>
<circle cx="1441.9" cy="1414.9" r="21" fill="none" stroke="#000" stroke-width="3.2"/>
</g>
<line x1="1367.4" y1="1063" x2="1385" y2="1063" stroke="#000" stroke-width="2.2"/>
<line x1="1367.4" y1="1155.13" x2="1385" y2="1155.13" stroke="#000" stroke-width="2.2"/>
<line x1="1367.4" y1="1247.27" x2="1385" y2="1247.27" stroke="#000" stroke-width="2.2"/>
<line x1="1367.4" y1="1339.4" x2="1385" y2="1339.4" stroke="#000" stroke-width="2.2"/>
<line x1="1367.4" y1="1431.53" x2="1385" y2="1431.53" stroke="#000" stroke-width="2.2"/>
<line x1="1398.58" y1="1477.6" x2="1398.58" y2="1495.2" stroke="#000" stroke-width="2.2"/>
<text x="1397.58" y="1535.9" font-size="36.7" text-anchor="middle" class="b">−5</text>
<line x1="1525.53" y1="1477.6" x2="1525.53" y2="1495.2" stroke="#000" stroke-width="2.2"/>
<text x="1524.53" y="1535.9" font-size="36.7" text-anchor="middle" class="b">−4</text>
<line x1="1652.48" y1="1477.6" x2="1652.48" y2="1495.2" stroke="#000" stroke-width="2.2"/>
<text x="1651.48" y="1535.9" font-size="36.7" text-anchor="middle" class="b">−3</text>
<line x1="1430.32" y1="1477.6" x2="1430.32" y2="1487.6" stroke="#000" stroke-width="1.8"/>
<line x1="1462.06" y1="1477.6" x2="1462.06" y2="1487.6" stroke="#000" stroke-width="1.8"/>
<line x1="1493.8" y1="1477.6" x2="1493.8" y2="1487.6" stroke="#000" stroke-width="1.8"/>
<line x1="1557.27" y1="1477.6" x2="1557.27" y2="1487.6" stroke="#000" stroke-width="1.8"/>
<line x1="1589.01" y1="1477.6" x2="1589.01" y2="1487.6" stroke="#000" stroke-width="1.8"/>
<line x1="1620.75" y1="1477.6" x2="1620.75" y2="1487.6" stroke="#000" stroke-width="1.8"/>
<line x1="1684.22" y1="1477.6" x2="1684.22" y2="1487.6" stroke="#000" stroke-width="1.8"/>
<line x1="1715.96" y1="1477.6" x2="1715.96" y2="1487.6" stroke="#000" stroke-width="1.8"/>
<rect x="182.9" y="1560" width="356.6" height="414.6" fill="none" stroke="#000" stroke-width="2.4"/>
<g clip-path="url(#cp30)">
<polygon points="179.95,1557.95 466.31,1557.95 467.33,1738.59 473.49,1826.86 474.52,1979.79 463.64,1979.79 462.82,1826.86 462.2,1642.11 461.17,1613.37 459.12,1603.11 452.96,1594.9 438.59,1588.74 418.07,1583.61 397.54,1580.53 366.75,1577.45 305.17,1573.34 243.58,1570.26 179.95,1567.18" fill="#4575b4" fill-opacity="0.5"/>
<polygon points="179.95,1557.95 366.75,1557.95 387.28,1578.47 407.8,1582.58 418.07,1590.79 428.33,1601.06 438.59,1611.32 448.86,1621.58 457.07,1642.11 461.17,1656.48 465.28,1683.17 475.54,1693.43 485.81,1703.69 489.91,1713.96 494.02,1734.48 495.04,1765.28 495.04,1979.79 179.95,1979.79" fill="#a6dba0" fill-opacity="0.5"/>
<path d="M468.36,1557.95 C468.36,1602.77 467.5,1776.91 468.36,1826.86 C468.54,1837.26 471.95,1849.1 473.49,1857.65 C474.73,1864.52 477.32,1871.2 477.6,1878.18 C477.94,1886.73 477.25,1900.41 475.54,1908.97 C474.1,1916.19 470.75,1923 467.33,1929.5 C463.91,1936 460.68,1943.2 455.02,1947.97 C448.52,1953.44 437.39,1957.88 428.33,1962.34 C419.16,1966.86 406.84,1972.16 400,1975.07 C395.84,1976.84 389.4,1979 387.28,1979.79" fill="none" stroke="#b0b0b0" stroke-width="3.5" stroke-opacity="0.9" stroke-linejoin="round" stroke-linecap="butt"/>
<path d="M473.49,1557.95 C473.66,1588.05 473.49,1704.03 474.52,1738.59 C474.79,1747.64 477.94,1757.41 479.65,1765.28 C481.15,1772.17 484.08,1778.78 484.78,1785.8 C485.81,1796.07 485.73,1813.17 485.81,1826.86 C485.98,1859.19 485.81,1954.3 485.81,1979.79" fill="none" stroke="#b0b0b0" stroke-width="3.5" stroke-opacity="0.9" stroke-linejoin="round" stroke-linecap="butt"/>
<path d="M471.44,1826.86 C472.12,1833.7 474.72,1854.18 475.54,1867.91 C476.57,1885.02 477.08,1910.85 477.6,1929.5 C478.06,1946.26 478.45,1971.41 478.62,1979.79" fill="none" stroke="#b0b0b0" stroke-width="3.5" stroke-opacity="0.9" stroke-linejoin="round" stroke-linecap="butt"/>
<path d="M475.54,1765.28 C476.57,1770.41 479.65,1786.83 481.7,1796.07 C483.54,1804.33 486.83,1816.59 487.86,1820.7" fill="none" stroke="#b0b0b0" stroke-width="12.0" stroke-opacity="0.9" stroke-linejoin="round" stroke-linecap="butt"/>
<path d="M179.95,1623.64 C180.29,1623.81 181.35,1624.25 182,1624.66 C185.76,1627.06 195.76,1633.44 202.53,1638 C209.37,1642.62 216.9,1648.61 223.06,1652.37 C228.28,1655.57 235.37,1657.51 239.48,1660.58 C242.98,1663.21 244.18,1668.22 247.69,1670.85 C251.79,1673.93 259.66,1676.32 264.11,1679.06 C267.84,1681.36 271.28,1684.17 274.37,1687.27 C277.8,1690.69 281.03,1695.65 284.64,1699.59 C288.4,1703.69 292.85,1707.8 296.95,1711.9 C301.06,1716.01 305.85,1721.14 309.27,1724.22 C311.81,1726.51 315.43,1727.98 317.48,1730.38 C319.47,1732.7 320.77,1735.64 321.59,1738.59 C322.44,1741.67 322.6,1745.41 322.61,1748.85 C322.78,1789.05 322.61,1941.3 322.61,1979.79" fill="none" stroke="#66c2a5" stroke-width="4.0" stroke-opacity="1" stroke-linejoin="round" stroke-linecap="butt"/>
<polyline points="322.2,1809.41 322.2,1924.36" fill="none" stroke="#66c2a5" stroke-width="12.0" stroke-opacity="1" stroke-linejoin="round" stroke-linecap="butt"/>
<path d="M461.58,1557.95 C461.69,1565.13 461.98,1586.69 462.2,1601.06 C462.47,1618.5 462.71,1645.53 463.23,1662.64 C463.64,1676.33 464.77,1691.38 465.28,1703.69 C465.74,1714.64 466.03,1725.59 466.31,1736.54 C466.82,1756.72 468.02,1802.91 468.36,1824.81 C468.58,1839.17 468.19,1857.31 468.36,1867.91 C468.47,1874.76 468.54,1881.64 469.39,1888.44 C470.24,1895.28 472.12,1902.13 473.49,1908.97 C474.86,1915.81 476.4,1922.65 477.6,1929.5 C478.79,1936.31 479.97,1943.14 480.68,1950.02 C481.53,1958.41 482.39,1974.83 482.73,1979.79" fill="none" stroke="#313695" stroke-width="4.0" stroke-opacity="1" stroke-linejoin="round" stroke-linecap="butt"/>
<path d="M464.25,1738.59 C464.42,1746.46 464.6,1771.95 465.28,1785.8 C465.87,1797.81 467.85,1815.74 468.36,1821.73" fill="none" stroke="#313695" stroke-width="12.0" stroke-opacity="1" stroke-linejoin="round" stroke-linecap="butt"/>
<text y="1882.8" font-size="31.5" class="b"><tspan x="196.5" font-style="italic">ϕ</tspan><tspan x="222.8">=</tspan><tspan x="254.7">0.78</tspan></text>
<circle cx="239.8" cy="1911.9" r="21" fill="#ffffff" stroke="#000" stroke-width="3.2"/>
<path d="M239.8,1890.9 A21,21 0 0 1 239.8,1932.9 A3.94,21 0 0 1 239.8,1890.9 Z" fill="#404040" stroke="#000" stroke-width="2.4"/>
<circle cx="239.8" cy="1911.9" r="21" fill="none" stroke="#000" stroke-width="3.2"/>
</g>
<line x1="165.3" y1="1560" x2="182.9" y2="1560" stroke="#000" stroke-width="2.2"/>
<text x="153.9" y="1574.1" font-size="36.7" text-anchor="end" class="b">−4</text>
<line x1="165.3" y1="1652.13" x2="182.9" y2="1652.13" stroke="#000" stroke-width="2.2"/>
<text x="153.9" y="1666.23" font-size="36.7" text-anchor="end" class="b">−3</text>
<line x1="165.3" y1="1744.27" x2="182.9" y2="1744.27" stroke="#000" stroke-width="2.2"/>
<text x="153.9" y="1758.37" font-size="36.7" text-anchor="end" class="b">−2</text>
<line x1="165.3" y1="1836.4" x2="182.9" y2="1836.4" stroke="#000" stroke-width="2.2"/>
<text x="153.9" y="1850.5" font-size="36.7" text-anchor="end" class="b">−1</text>
<line x1="165.3" y1="1928.53" x2="182.9" y2="1928.53" stroke="#000" stroke-width="2.2"/>
<text x="153.9" y="1942.63" font-size="36.7" text-anchor="end" class="b">0</text>
<line x1="196.48" y1="1974.6" x2="196.48" y2="1992.2" stroke="#000" stroke-width="2.2"/>
<text x="195.48" y="2032.9" font-size="36.7" text-anchor="middle" class="b">−5</text>
<line x1="323.43" y1="1974.6" x2="323.43" y2="1992.2" stroke="#000" stroke-width="2.2"/>
<text x="322.43" y="2032.9" font-size="36.7" text-anchor="middle" class="b">−4</text>
<line x1="450.38" y1="1974.6" x2="450.38" y2="1992.2" stroke="#000" stroke-width="2.2"/>
<text x="449.38" y="2032.9" font-size="36.7" text-anchor="middle" class="b">−3</text>
<line x1="228.22" y1="1974.6" x2="228.22" y2="1984.6" stroke="#000" stroke-width="1.8"/>
<line x1="259.96" y1="1974.6" x2="259.96" y2="1984.6" stroke="#000" stroke-width="1.8"/>
<line x1="291.7" y1="1974.6" x2="291.7" y2="1984.6" stroke="#000" stroke-width="1.8"/>
<line x1="355.17" y1="1974.6" x2="355.17" y2="1984.6" stroke="#000" stroke-width="1.8"/>
<line x1="386.91" y1="1974.6" x2="386.91" y2="1984.6" stroke="#000" stroke-width="1.8"/>
<line x1="418.65" y1="1974.6" x2="418.65" y2="1984.6" stroke="#000" stroke-width="1.8"/>
<line x1="482.12" y1="1974.6" x2="482.12" y2="1984.6" stroke="#000" stroke-width="1.8"/>
<line x1="513.86" y1="1974.6" x2="513.86" y2="1984.6" stroke="#000" stroke-width="1.8"/>
<rect x="583.6" y="1560" width="356.6" height="414.6" fill="none" stroke="#000" stroke-width="2.4"/>
<g clip-path="url(#cp31)">
<polygon points="863.58,1557.95 869.33,1557.95 871.39,1738.59 879.6,1826.86 880.62,1979.79 865.23,1979.79 864.2,1826.86 863.58,1738.59" fill="#4575b4" fill-opacity="0.5"/>
<polygon points="581.95,1557.95 791.33,1557.95 791.33,1560 801.59,1566.16 809.8,1571.29 820.07,1576.42 830.33,1580.53 840.59,1586.69 846.75,1592.84 848.81,1605.16 850.86,1617.48 857.02,1625.69 863.17,1633.9 875.49,1652.37 879.6,1672.9 883.7,1683.17 887.81,1693.43 891.91,1703.69 893.97,1713.96 898.07,1724.22 902.18,1734.48 903.2,1755.01 903.2,1979.79 581.95,1979.79" fill="#a6dba0" fill-opacity="0.5"/>
<path d="M869.33,1557.95 C869.33,1602.77 868.31,1776.91 869.33,1826.86 C869.55,1837.32 873.78,1849.1 875.49,1857.65 C876.86,1864.49 879.32,1871.2 879.6,1878.18 C879.94,1886.73 878.91,1900.41 877.54,1908.97 C876.41,1916.02 874.71,1923.17 871.39,1929.5 C867.96,1936 863.11,1943.1 857.02,1947.97 C850.17,1953.44 839.39,1957.88 830.33,1962.34 C821.16,1966.86 808.84,1972.16 802,1975.07 C797.84,1976.84 791.4,1979 789.28,1979.79" fill="none" stroke="#b0b0b0" stroke-width="3.5" stroke-opacity="0.9" stroke-linejoin="round" stroke-linecap="butt"/>
<path d="M875.49,1557.95 C875.66,1588.05 875.83,1705.75 876.52,1738.59 C876.63,1744.16 878.25,1749.61 879.6,1755.01 C881.14,1761.17 885,1768.44 885.75,1775.54 C886.95,1786.83 886.7,1807.01 886.78,1822.75 C886.95,1856.79 886.78,1953.62 886.78,1979.79" fill="none" stroke="#b0b0b0" stroke-width="3.5" stroke-opacity="0.9" stroke-linejoin="round" stroke-linecap="butt"/>
<path d="M872.41,1826.86 C873.1,1833.7 875.56,1854.19 876.52,1867.91 C877.71,1885.02 878.91,1910.85 879.6,1929.5 C880.21,1946.25 880.45,1971.41 880.62,1979.79" fill="none" stroke="#b0b0b0" stroke-width="3.5" stroke-opacity="0.9" stroke-linejoin="round" stroke-linecap="butt"/>
<path d="M873.44,1740.64 C873.51,1748.17 871.11,1772.29 873.85,1785.8 C876.45,1798.65 887.19,1815.74 889.86,1821.73" fill="none" stroke="#b0b0b0" stroke-width="12.0" stroke-opacity="0.9" stroke-linejoin="round" stroke-linecap="butt"/>
<path d="M581.95,1610.29 C582.29,1610.46 583.3,1611.02 584,1611.32 C588.45,1613.2 601.79,1618.16 608.63,1621.58 C614.41,1624.47 619.28,1628.96 625.06,1631.85 C631.21,1634.93 638.74,1637.32 645.58,1640.06 C652.43,1642.79 659.65,1644.72 666.11,1648.27 C672.95,1652.03 681.51,1658.19 686.64,1662.64 C690.68,1666.14 693.48,1671.88 696.9,1674.95 C699.87,1677.62 703.9,1678.82 707.17,1681.11 C710.59,1683.51 714.33,1686.23 717.43,1689.32 C720.85,1692.74 724.65,1697.25 727.69,1701.64 C730.77,1706.09 733.55,1711.02 735.9,1716.01 C738.64,1721.83 742.75,1731.75 744.11,1736.54 C744.87,1739.17 744.11,1742.01 744.11,1744.75 C744.11,1785.29 744.11,1940.61 744.11,1979.79" fill="none" stroke="#66c2a5" stroke-width="4.0" stroke-opacity="1" stroke-linejoin="round" stroke-linecap="butt"/>
<polyline points="744.11,1809.41 744.11,1924.36" fill="none" stroke="#66c2a5" stroke-width="12.0" stroke-opacity="1" stroke-linejoin="round" stroke-linecap="butt"/>
<path d="M864.2,1557.95 C864.2,1587.71 864.03,1692.06 864.2,1736.54 C864.31,1765.96 865.06,1802.91 865.23,1824.81 C865.34,1839.17 864.71,1857.31 865.23,1867.91 C865.56,1874.82 867.45,1881.6 868.31,1888.44 C869.16,1895.26 870.02,1902.81 870.36,1908.97 C870.66,1914.43 869.5,1920.26 870.36,1925.39 C871.2,1930.41 873.95,1934.97 875.49,1939.76 C877.02,1944.5 878.72,1949.23 879.6,1954.13 C880.79,1960.8 882.16,1975.51 882.68,1979.79" fill="none" stroke="#313695" stroke-width="4.0" stroke-opacity="1" stroke-linejoin="round" stroke-linecap="butt"/>
<polyline points="864.82,1738.59 865.23,1822.75" fill="none" stroke="#313695" stroke-width="12.0" stroke-opacity="1" stroke-linejoin="round" stroke-linecap="butt"/>
<text y="1882.8" font-size="31.5" class="b"><tspan x="597.2" font-style="italic">ϕ</tspan><tspan x="623.5">=</tspan><tspan x="655.4">0.82</tspan></text>
<circle cx="640.5" cy="1911.9" r="21" fill="#ffffff" stroke="#000" stroke-width="3.2"/>
<path d="M640.5,1890.9 A21,21 0 0 1 640.5,1932.9 A8.94,21 0 0 1 640.5,1890.9 Z" fill="#404040" stroke="#000" stroke-width="2.4"/>
<circle cx="640.5" cy="1911.9" r="21" fill="none" stroke="#000" stroke-width="3.2"/>
</g>
<line x1="566" y1="1560" x2="583.6" y2="1560" stroke="#000" stroke-width="2.2"/>
<line x1="566" y1="1652.13" x2="583.6" y2="1652.13" stroke="#000" stroke-width="2.2"/>
<line x1="566" y1="1744.27" x2="583.6" y2="1744.27" stroke="#000" stroke-width="2.2"/>
<line x1="566" y1="1836.4" x2="583.6" y2="1836.4" stroke="#000" stroke-width="2.2"/>
<line x1="566" y1="1928.53" x2="583.6" y2="1928.53" stroke="#000" stroke-width="2.2"/>
<line x1="597.18" y1="1974.6" x2="597.18" y2="1992.2" stroke="#000" stroke-width="2.2"/>
<text x="596.18" y="2032.9" font-size="36.7" text-anchor="middle" class="b">−5</text>
<line x1="724.13" y1="1974.6" x2="724.13" y2="1992.2" stroke="#000" stroke-width="2.2"/>
<text x="723.13" y="2032.9" font-size="36.7" text-anchor="middle" class="b">−4</text>
<line x1="851.08" y1="1974.6" x2="851.08" y2="1992.2" stroke="#000" stroke-width="2.2"/>
<text x="850.08" y="2032.9" font-size="36.7" text-anchor="middle" class="b">−3</text>
<line x1="628.92" y1="1974.6" x2="628.92" y2="1984.6" stroke="#000" stroke-width="1.8"/>
<line x1="660.66" y1="1974.6" x2="660.66" y2="1984.6" stroke="#000" stroke-width="1.8"/>
<line x1="692.4" y1="1974.6" x2="692.4" y2="1984.6" stroke="#000" stroke-width="1.8"/>
<line x1="755.87" y1="1974.6" x2="755.87" y2="1984.6" stroke="#000" stroke-width="1.8"/>
<line x1="787.61" y1="1974.6" x2="787.61" y2="1984.6" stroke="#000" stroke-width="1.8"/>
<line x1="819.35" y1="1974.6" x2="819.35" y2="1984.6" stroke="#000" stroke-width="1.8"/>
<line x1="882.82" y1="1974.6" x2="882.82" y2="1984.6" stroke="#000" stroke-width="1.8"/>
<line x1="914.56" y1="1974.6" x2="914.56" y2="1984.6" stroke="#000" stroke-width="1.8"/>
<rect x="984.9" y="1560" width="356.6" height="414.6" fill="none" stroke="#000" stroke-width="2.4"/>
<g clip-path="url(#cp32)">
<polygon points="1264.58,1557.95 1277.52,1557.95 1278.54,1738.59 1286.75,1826.86 1287.78,1979.79 1210.8,1979.79 1241.59,1962.34 1262.12,1945.92 1270.33,1929.5 1272.39,1888.44 1270.33,1826.86 1265.2,1738.59" fill="#4575b4" fill-opacity="0.5"/>
<polygon points="982.95,1557.95 1264.17,1557.95 1264.17,1738.59 1278.54,1738.59 1278.54,1557.95 1278.54,1560 1286.75,1568.21 1292.91,1580.53 1297.02,1590.79 1303.18,1611.32 1311.39,1625.69 1319.6,1638 1323.7,1652.37 1325.76,1662.64 1329.86,1683.17 1331.92,1713.96 1333.97,1744.75 1333.97,1979.79 1098.93,1979.79 1098.93,1744.75 1097.9,1734.48 1091.74,1724.22 1083.53,1716.01 1067.11,1707.8 1046.58,1701.64 1026.06,1693.43 1005.53,1687.27 985,1683.17 982.95,1683.17" fill="#a6dba0" fill-opacity="0.5"/>
<path d="M1272.8,1557.95 C1272.8,1588.05 1272.52,1704.03 1272.8,1738.59 C1272.87,1747.5 1274.16,1760.83 1274.44,1765.28" fill="none" stroke="#b0b0b0" stroke-width="3.5" stroke-opacity="0.9" stroke-linejoin="round" stroke-linecap="butt"/>
<path d="M1265.2,1557.95 C1265.2,1588.05 1264.35,1704.03 1265.2,1738.59 C1265.42,1747.64 1268.84,1756.34 1270.33,1765.28 C1272.21,1776.57 1274.78,1792.65 1276.49,1806.33 C1278.2,1819.98 1279.91,1835.41 1280.6,1847.39 C1281.18,1857.63 1281.28,1867.94 1280.6,1878.18 C1279.91,1888.44 1278.2,1900.76 1276.49,1908.97 C1275.17,1915.32 1273.24,1921.64 1270.33,1927.44 C1267.25,1933.6 1263.53,1940.98 1258.02,1945.92 C1251.52,1951.73 1240.5,1957.48 1231.33,1962.34 C1222.18,1967.19 1209.84,1972.16 1203,1975.07 C1198.84,1976.84 1192.4,1979 1190.28,1979.79" fill="none" stroke="#b0b0b0" stroke-width="3.5" stroke-opacity="0.9" stroke-linejoin="round" stroke-linecap="butt"/>
<path d="M1276.49,1557.95 C1276.49,1588.05 1275.46,1705.75 1276.49,1738.59 C1276.67,1744.43 1281.08,1749.38 1282.65,1755.01 C1284.36,1761.17 1286.36,1768.57 1286.75,1775.54 C1287.44,1787.51 1286.67,1809.75 1286.75,1826.86 C1286.93,1860.9 1287.61,1954.3 1287.78,1979.79" fill="none" stroke="#b0b0b0" stroke-width="3.5" stroke-opacity="0.9" stroke-linejoin="round" stroke-linecap="butt"/>
<path d="M1279.57,1744.75 C1280.6,1748.17 1284.74,1758.2 1285.73,1765.28 C1286.93,1773.83 1286.93,1786.49 1286.75,1796.07 C1286.6,1804.99 1285.04,1818.3 1284.7,1822.75" fill="none" stroke="#b0b0b0" stroke-width="12.0" stroke-opacity="0.9" stroke-linejoin="round" stroke-linecap="butt"/>
<path d="M982.95,1585.25 C983.29,1585.32 984.32,1585.52 985,1585.66 C988.76,1586.41 998.69,1588.4 1005.53,1589.76 C1012.37,1591.13 1019.21,1592.5 1026.06,1593.87 C1032.9,1595.24 1039.81,1596.28 1046.58,1597.98 C1053.43,1599.69 1060.37,1601.77 1067.11,1604.13 C1073.95,1606.53 1080.8,1609.95 1087.64,1612.35 C1094.38,1614.71 1101.37,1616.3 1108.17,1618.5 C1115.01,1620.73 1121.9,1623.14 1128.69,1625.69 C1135.54,1628.25 1142.38,1631.16 1149.22,1633.9 C1156.06,1636.64 1163.03,1639.09 1169.75,1642.11 C1176.59,1645.19 1183.72,1648.44 1190.28,1652.37 C1197.12,1656.48 1205.67,1662.98 1210.8,1666.74 C1214.34,1669.33 1217.97,1671.86 1221.07,1674.95 C1224.49,1678.38 1228.07,1683.03 1231.33,1687.27 C1234.75,1691.72 1238.86,1697.88 1241.59,1701.64 C1243.61,1704.41 1246.09,1706.86 1247.75,1709.85 C1249.46,1712.93 1250.49,1716.69 1251.86,1720.11 C1253.23,1723.54 1255.3,1726.75 1255.96,1730.38 C1256.72,1734.48 1256.37,1739.96 1256.37,1744.75 C1256.44,1786.32 1256.37,1940.61 1256.37,1979.79" fill="none" stroke="#66c2a5" stroke-width="4.0" stroke-opacity="1" stroke-linejoin="round" stroke-linecap="butt"/>
<polyline points="1255.96,1808.38 1255.96,1923.34" fill="none" stroke="#66c2a5" stroke-width="12.0" stroke-opacity="1" stroke-linejoin="round" stroke-linecap="butt"/>
<path d="M1269.31,1557.95 C1269.31,1576.76 1269.14,1641.08 1269.31,1670.85 C1269.43,1692.75 1269.99,1720.8 1270.33,1736.54 C1270.54,1746.12 1270.33,1757.06 1271.36,1765.28 C1272.23,1772.27 1274.27,1779.64 1276.49,1785.8 C1278.57,1791.56 1282.72,1796.44 1284.7,1802.22 C1286.75,1808.21 1288.47,1817.96 1288.81,1821.73 C1288.92,1822.95 1286.81,1823.57 1286.75,1824.81 C1286.41,1832.5 1287.1,1853.89 1286.75,1867.91 C1286.42,1881.61 1285.73,1896.99 1284.7,1908.97 C1283.82,1919.28 1282.14,1931.21 1280.6,1939.76 C1279.35,1946.7 1277,1953.62 1275.46,1960.29 C1273.97,1966.76 1272.04,1976.54 1271.36,1979.79" fill="none" stroke="#313695" stroke-width="4.0" stroke-opacity="1" stroke-linejoin="round" stroke-linecap="butt"/>
<path d="M1270.33,1738.59 C1270.5,1743.04 1270.33,1757.41 1271.36,1765.28 C1272.27,1772.27 1274.27,1779.64 1276.49,1785.8 C1278.57,1791.56 1282.72,1796.44 1284.7,1802.22 C1286.75,1808.21 1288.12,1818.48 1288.81,1821.73" fill="none" stroke="#313695" stroke-width="12.0" stroke-opacity="1" stroke-linejoin="round" stroke-linecap="butt"/>
<text y="1882.8" font-size="31.5" class="b"><tspan x="998.5" font-style="italic">ϕ</tspan><tspan x="1024.8">=</tspan><tspan x="1056.7">0.88</tspan></text>
<circle cx="1041.8" cy="1911.9" r="21" fill="#ffffff" stroke="#000" stroke-width="3.2"/>
<path d="M1041.8,1890.9 A21,21 0 0 1 1041.8,1932.9 A15.31,21 0 0 1 1041.8,1890.9 Z" fill="#404040" stroke="#000" stroke-width="2.4"/>
<circle cx="1041.8" cy="1911.9" r="21" fill="none" stroke="#000" stroke-width="3.2"/>
</g>
<line x1="967.3" y1="1560" x2="984.9" y2="1560" stroke="#000" stroke-width="2.2"/>
<line x1="967.3" y1="1652.13" x2="984.9" y2="1652.13" stroke="#000" stroke-width="2.2"/>
<line x1="967.3" y1="1744.27" x2="984.9" y2="1744.27" stroke="#000" stroke-width="2.2"/>
<line x1="967.3" y1="1836.4" x2="984.9" y2="1836.4" stroke="#000" stroke-width="2.2"/>
<line x1="967.3" y1="1928.53" x2="984.9" y2="1928.53" stroke="#000" stroke-width="2.2"/>
<line x1="998.48" y1="1974.6" x2="998.48" y2="1992.2" stroke="#000" stroke-width="2.2"/>
<text x="997.48" y="2032.9" font-size="36.7" text-anchor="middle" class="b">−5</text>
<line x1="1125.43" y1="1974.6" x2="1125.43" y2="1992.2" stroke="#000" stroke-width="2.2"/>
<text x="1124.43" y="2032.9" font-size="36.7" text-anchor="middle" class="b">−4</text>
<line x1="1252.38" y1="1974.6" x2="1252.38" y2="1992.2" stroke="#000" stroke-width="2.2"/>
<text x="1251.38" y="2032.9" font-size="36.7" text-anchor="middle" class="b">−3</text>
<line x1="1030.22" y1="1974.6" x2="1030.22" y2="1984.6" stroke="#000" stroke-width="1.8"/>
<line x1="1061.96" y1="1974.6" x2="1061.96" y2="1984.6" stroke="#000" stroke-width="1.8"/>
<line x1="1093.7" y1="1974.6" x2="1093.7" y2="1984.6" stroke="#000" stroke-width="1.8"/>
<line x1="1157.17" y1="1974.6" x2="1157.17" y2="1984.6" stroke="#000" stroke-width="1.8"/>
<line x1="1188.91" y1="1974.6" x2="1188.91" y2="1984.6" stroke="#000" stroke-width="1.8"/>
<line x1="1220.65" y1="1974.6" x2="1220.65" y2="1984.6" stroke="#000" stroke-width="1.8"/>
<line x1="1284.12" y1="1974.6" x2="1284.12" y2="1984.6" stroke="#000" stroke-width="1.8"/>
<line x1="1315.86" y1="1974.6" x2="1315.86" y2="1984.6" stroke="#000" stroke-width="1.8"/>
<rect x="1385" y="1560" width="356.6" height="414.6" fill="none" stroke="#000" stroke-width="2.4"/>
<g clip-path="url(#cp33)">
<polygon points="1665.58,1557.95 1678.52,1557.95 1679.54,1738.59 1687.75,1826.86 1688.78,1979.79 1611.8,1979.79 1642.59,1962.34 1663.12,1945.92 1671.33,1929.5 1675.44,1888.44 1671.33,1826.86 1666.2,1738.59" fill="#4575b4" fill-opacity="0.5"/>
<polygon points="1383.95,1557.95 1665.17,1557.95 1665.17,1738.59 1679.54,1738.59 1679.54,1557.95 1679.54,1560 1689.81,1568.21 1698.02,1580.53 1704.18,1590.79 1705.2,1611.32 1710.33,1631.85 1716.49,1642.11 1720.6,1662.64 1724.7,1683.17 1726.76,1703.69 1730.86,1734.48 1731.89,1765.28 1732.92,1979.79 1508.14,1979.79 1507.11,1744.75 1505.06,1734.48 1500.95,1726.27 1488.64,1720.11 1468.11,1711.9 1447.58,1703.69 1427.06,1697.53 1406.53,1689.32 1386,1685.22 1383.95,1684.19" fill="#a6dba0" fill-opacity="0.5"/>
<path d="M1673.8,1557.95 C1673.8,1588.05 1673.52,1704.03 1673.8,1738.59 C1673.87,1747.5 1675.16,1760.83 1675.44,1765.28" fill="none" stroke="#b0b0b0" stroke-width="3.5" stroke-opacity="0.9" stroke-linejoin="round" stroke-linecap="butt"/>
<path d="M1666.2,1557.95 C1666.2,1588.05 1665.35,1704.03 1666.2,1738.59 C1666.42,1747.64 1670.11,1756.3 1671.33,1765.28 C1672.87,1776.57 1673.73,1792.68 1675.44,1806.33 C1677.15,1820.02 1680.4,1835.41 1681.6,1847.39 C1682.62,1857.6 1683.31,1867.93 1682.62,1878.18 C1681.94,1888.44 1679.37,1900.76 1677.49,1908.97 C1676.04,1915.3 1674.24,1921.64 1671.33,1927.44 C1668.25,1933.6 1664.53,1940.98 1659.02,1945.92 C1652.52,1951.73 1641.5,1957.48 1632.33,1962.34 C1623.18,1967.19 1610.84,1972.16 1604,1975.07 C1599.84,1976.84 1593.4,1979 1591.28,1979.79" fill="none" stroke="#b0b0b0" stroke-width="3.5" stroke-opacity="0.9" stroke-linejoin="round" stroke-linecap="butt"/>
<path d="M1677.49,1557.95 C1677.49,1588.05 1676.46,1705.75 1677.49,1738.59 C1677.67,1744.43 1682.08,1749.38 1683.65,1755.01 C1685.36,1761.17 1687.36,1768.57 1687.75,1775.54 C1688.44,1787.51 1687.67,1809.75 1687.75,1826.86 C1687.93,1860.9 1688.61,1954.3 1688.78,1979.79" fill="none" stroke="#b0b0b0" stroke-width="3.5" stroke-opacity="0.9" stroke-linejoin="round" stroke-linecap="butt"/>
<path d="M1680.57,1744.75 C1681.6,1748.17 1685.74,1758.2 1686.73,1765.28 C1687.93,1773.83 1687.93,1786.49 1687.75,1796.07 C1687.6,1804.99 1686.04,1818.3 1685.7,1822.75" fill="none" stroke="#b0b0b0" stroke-width="12.0" stroke-opacity="0.9" stroke-linejoin="round" stroke-linecap="butt"/>
<path d="M1383.95,1581.14 C1384.29,1581.21 1385.32,1581.42 1386,1581.55 C1389.76,1582.31 1399.72,1584.13 1406.53,1585.66 C1413.37,1587.2 1420.21,1589.25 1427.06,1590.79 C1433.86,1592.32 1440.74,1593.53 1447.58,1594.9 C1454.43,1596.27 1461.47,1596.85 1468.11,1599 C1474.95,1601.23 1481.8,1605.67 1488.64,1608.24 C1495.33,1610.75 1502.37,1612.19 1509.17,1614.4 C1516.01,1616.62 1522.9,1619.04 1529.69,1621.58 C1536.54,1624.15 1543.38,1627.06 1550.22,1629.79 C1557.06,1632.53 1563.91,1635.27 1570.75,1638 C1577.59,1640.74 1586.14,1643.48 1591.28,1646.22 C1595.14,1648.28 1598.44,1651.33 1601.54,1654.43 C1604.96,1657.85 1607.9,1663.1 1611.8,1666.74 C1616.93,1671.53 1627.2,1678.38 1632.33,1683.17 C1636.24,1686.81 1639.86,1691.38 1642.59,1695.48 C1645.14,1699.3 1647.04,1703.69 1648.75,1707.8 C1650.42,1711.79 1651.73,1715.94 1652.86,1720.11 C1654.06,1724.56 1655.42,1730.38 1655.94,1734.48 C1656.36,1737.88 1655.94,1741.33 1655.94,1744.75 C1655.94,1785.63 1655.94,1940.61 1655.94,1979.79" fill="none" stroke="#66c2a5" stroke-width="4.0" stroke-opacity="1" stroke-linejoin="round" stroke-linecap="butt"/>
<polyline points="1655.53,1808.38 1655.53,1923.34" fill="none" stroke="#66c2a5" stroke-width="12.0" stroke-opacity="1" stroke-linejoin="round" stroke-linecap="butt"/>
<path d="M1671.33,1557.95 C1671.33,1587.71 1670.99,1701.98 1671.33,1736.54 C1671.43,1746.14 1672.36,1757.75 1673.39,1765.28 C1674.15,1770.87 1675.71,1776.34 1677.49,1781.7 C1679.54,1787.86 1683.48,1795.55 1685.7,1802.22 C1687.83,1808.6 1690.32,1817.96 1690.83,1821.73 C1691,1822.95 1688.84,1823.57 1688.78,1824.81 C1688.44,1832.5 1688.95,1853.89 1688.78,1867.91 C1688.61,1881.6 1688.61,1896.99 1687.75,1908.97 C1687.02,1919.3 1685.02,1931.21 1683.65,1939.76 C1682.55,1946.65 1680.91,1953.62 1679.54,1960.29 C1678.21,1966.79 1676.12,1976.54 1675.44,1979.79" fill="none" stroke="#313695" stroke-width="4.0" stroke-opacity="1" stroke-linejoin="round" stroke-linecap="butt"/>
<path d="M1671.33,1738.59 C1671.67,1743.04 1672.36,1758.09 1673.39,1765.28 C1674.18,1770.86 1675.71,1776.34 1677.49,1781.7 C1679.54,1787.86 1683.48,1795.55 1685.7,1802.22 C1687.83,1808.6 1689.98,1818.48 1690.83,1821.73" fill="none" stroke="#313695" stroke-width="12.0" stroke-opacity="1" stroke-linejoin="round" stroke-linecap="butt"/>
<text y="1882.8" font-size="31.5" class="b"><tspan x="1398.6" font-style="italic">ϕ</tspan><tspan x="1424.9">=</tspan><tspan x="1456.8">0.95</tspan></text>
<circle cx="1441.9" cy="1911.9" r="21" fill="#ffffff" stroke="#000" stroke-width="3.2"/>
<path d="M1441.9,1890.9 A21,21 0 0 1 1441.9,1932.9 A19.97,21 0 0 1 1441.9,1890.9 Z" fill="#404040" stroke="#000" stroke-width="2.4"/>
<circle cx="1441.9" cy="1911.9" r="21" fill="none" stroke="#000" stroke-width="3.2"/>
</g>
<line x1="1367.4" y1="1560" x2="1385" y2="1560" stroke="#000" stroke-width="2.2"/>
<line x1="1367.4" y1="1652.13" x2="1385" y2="1652.13" stroke="#000" stroke-width="2.2"/>
<line x1="1367.4" y1="1744.27" x2="1385" y2="1744.27" stroke="#000" stroke-width="2.2"/>
<line x1="1367.4" y1="1836.4" x2="1385" y2="1836.4" stroke="#000" stroke-width="2.2"/>
<line x1="1367.4" y1="1928.53" x2="1385" y2="1928.53" stroke="#000" stroke-width="2.2"/>
<line x1="1398.58" y1="1974.6" x2="1398.58" y2="1992.2" stroke="#000" stroke-width="2.2"/>
<text x="1397.58" y="2032.9" font-size="36.7" text-anchor="middle" class="b">−5</text>
<line x1="1525.53" y1="1974.6" x2="1525.53" y2="1992.2" stroke="#000" stroke-width="2.2"/>
<text x="1524.53" y="2032.9" font-size="36.7" text-anchor="middle" class="b">−4</text>
<line x1="1652.48" y1="1974.6" x2="1652.48" y2="1992.2" stroke="#000" stroke-width="2.2"/>
<text x="1651.48" y="2032.9" font-size="36.7" text-anchor="middle" class="b">−3</text>
<line x1="1430.32" y1="1974.6" x2="1430.32" y2="1984.6" stroke="#000" stroke-width="1.8"/>
<line x1="1462.06" y1="1974.6" x2="1462.06" y2="1984.6" stroke="#000" stroke-width="1.8"/>
<line x1="1493.8" y1="1974.6" x2="1493.8" y2="1984.6" stroke="#000" stroke-width="1.8"/>
<line x1="1557.27" y1="1974.6" x2="1557.27" y2="1984.6" stroke="#000" stroke-width="1.8"/>
<line x1="1589.01" y1="1974.6" x2="1589.01" y2="1984.6" stroke="#000" stroke-width="1.8"/>
<line x1="1620.75" y1="1974.6" x2="1620.75" y2="1984.6" stroke="#000" stroke-width="1.8"/>
<line x1="1684.22" y1="1974.6" x2="1684.22" y2="1984.6" stroke="#000" stroke-width="1.8"/>
<line x1="1715.96" y1="1974.6" x2="1715.96" y2="1984.6" stroke="#000" stroke-width="1.8"/>
<rect x="227.7" y="2.2" width="1466" height="53.6" rx="6" ry="6" fill="#fff" fill-opacity="0.8" stroke="#cccccc" stroke-width="2.2"/>
<rect x="233.4" y="20.6" width="58.5" height="12.1" fill="#313695"/>
<text x="301.7" y="38.2" font-size="30.6" class="b">ATMO nightside</text>
<rect x="596.3" y="20.6" width="58.5" height="12.1" fill="#66c2a5"/>
<text x="664.6" y="38.2" font-size="30.6" class="b">NEMESIS nightside</text>
<rect x="1006.9" y="20.6" width="58.5" height="12.1" fill="#a50026"/>
<text x="1075.2" y="38.2" font-size="30.6" class="b">ATMO dayside</text>
<rect x="1348" y="20.6" width="58.5" height="12.1" fill="#fdae61"/>
<text x="1416.3" y="38.2" font-size="30.6" class="b">NEMESIS dayside</text>
<text x="799.5" y="2084.1" font-size="37.1" class="b">log<tspan font-size="25.7" dy="7">10</tspan><tspan dy="-7">[ H</tspan><tspan font-size="25.7" dy="7">2</tspan><tspan dy="-7">O (dex) ]</tspan></text>
<text transform="translate(29.6,1226.4) rotate(-90)" font-size="37.1" class="b">log<tspan font-size="25.7" dy="7">10</tspan><tspan dy="-7">[ Pressure (bar) ]</tspan></text>
</svg></body></html>
